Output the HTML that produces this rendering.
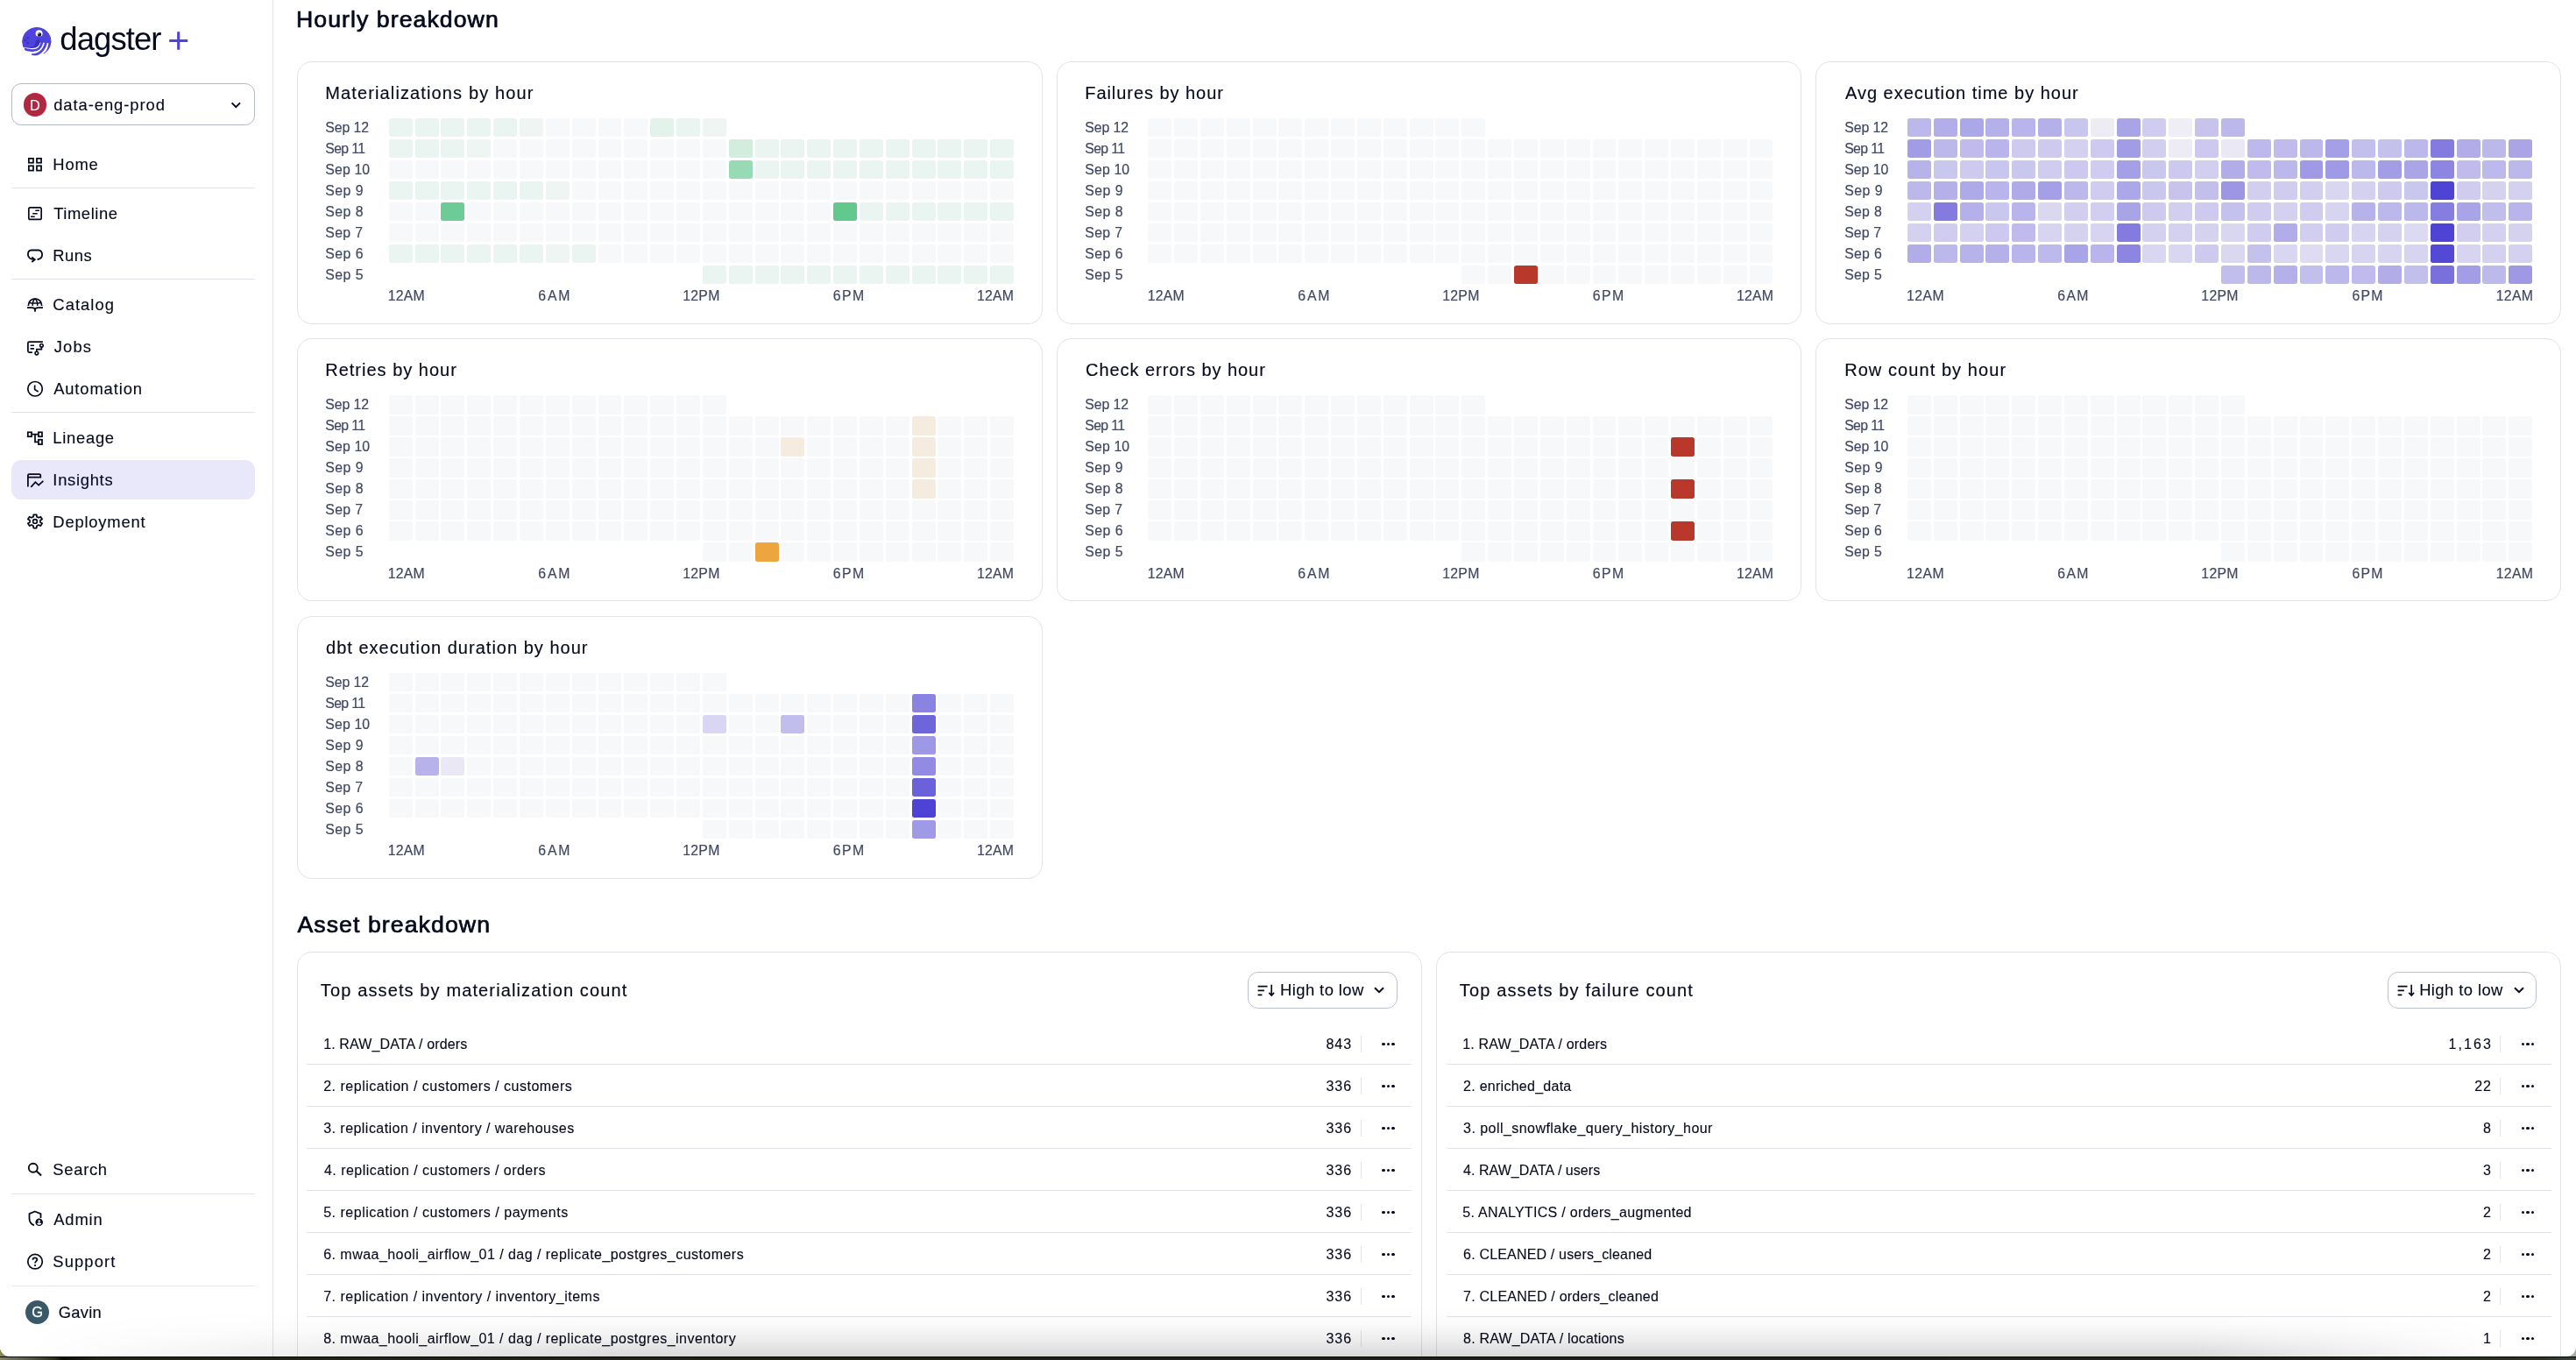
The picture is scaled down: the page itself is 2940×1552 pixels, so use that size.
<!DOCTYPE html>
<html><head><meta charset="utf-8"><title>Insights</title>
<style>
html,body{margin:0;padding:0;background:#fff;}
body{width:2940px;height:1552px;position:relative;overflow:hidden;font-family:"Liberation Sans", sans-serif;}
.t{position:absolute;white-space:pre;line-height:1;font-family:"Liberation Sans", sans-serif;}
.card{position:absolute;box-sizing:border-box;border:1.4px solid #e1e3e9;border-radius:17px;background:#fff;}
.hm i{position:absolute;display:block;width:26.942px;height:21px;border-radius:2.7px;}
.h22 i{height:22px;}
.btn{position:absolute;box-sizing:border-box;border:1.4px solid #bcc2d0;border-radius:12px;background:#fff;}
.sep{position:absolute;left:13px;width:278px;height:1px;background:#e1e3e9;}
</style></head><body>
<div style="position:absolute;left:0;top:1540px;width:2940px;height:12px;background:linear-gradient(to right,#8a8a52 0px,#6f735c 12px,#5d614a 30px,#2c3019 62px,#0a0b06 72px,#20251a 110px,#1b2018 1400px,#1d231b 2600px,#2c3328 2900px,#3a4136 2940px)"></div>
<div style="position:absolute;left:0;top:1547.6px;width:2940px;height:1.6px;background:#050505"></div>
<div style="position:absolute;left:2922px;top:1530px;width:18px;height:18px;background:#a9aba8"></div>
</body></html><div id="win" style="will-change:transform;position:absolute;left:0;top:0;width:2940px;height:1547.7px;background:#fff;overflow:hidden;border-bottom-left-radius:11px;border-bottom-right-radius:11px;">
<div style="position:absolute;left:311px;top:0;width:1.4px;height:1552px;background:#e1e3e9"></div>
<div class="sep" style="top:214px"></div>
<div class="sep" style="top:317.6px"></div>
<div class="sep" style="top:469.6px"></div>
<div class="sep" style="top:1361.8px"></div>
<div class="sep" style="top:1467px"></div>
<div style="position:absolute;left:13px;top:525.2px;width:278px;height:44.4px;border-radius:11px;background:#e9e8fa"></div>
<div style="position:absolute;box-sizing:border-box;left:13px;top:95px;width:278.3px;height:48px;border:1.5px solid #b3b9c9;border-radius:11px;background:#fff"></div>
<div style="position:absolute;left:26.7px;top:106.4px;width:26.4px;height:26.4px;border-radius:50%;background:#b0273f"></div>
<span class="t" style="left:34px;top:111.69px;font-size:16.2px;color:#fff;-webkit-text-stroke:0.2px #fff">D</span>
<svg style="position:absolute;left:261px;top:112px" width="16" height="16" viewBox="0 0 16 16" fill="none" stroke="#060a1c" stroke-width="2"><path d="M3.6 5.4L8.3 10.1L13 5.4"/></svg>
<div style="position:absolute;left:28.9px;top:1483.8px;width:27px;height:27px;border-radius:50%;background:#3a5966"></div>
<span class="t" style="left:36.3px;top:1489.33px;font-size:16.5px;color:#fff;-webkit-text-stroke:0.3px #fff">G</span>
<svg style="position:absolute;left:192px;top:35px" width="24" height="24" viewBox="0 0 24 24" fill="none" stroke="#4f43dd" stroke-width="3.1"><path d="M1.2 11.5H22.2M11.7 1.3V21.8"/></svg>
<svg style="position:absolute;left:24px;top:29px" width="36" height="36" viewBox="0 0 36 36">
<defs><clipPath id="oc"><circle cx="17.700" cy="17.800" r="16.800"/></clipPath></defs>
<g clip-path="url(#oc)">
<path fill="#4f43dd" d="M2.500 25.300A16.800 16.800 0 1 1 34.700 20.300L21.500 19.500C21 21.500 20 23.200 18.500 24.200C17.400 25 16.200 25.400 15.300 25.600C13.500 26 12 26 10.700 25.900C8 25.700 5.500 25.600 2.500 25.300Z"/>
<path fill="#3b31b4" d="M16.900 18.300C17.300 16.600 19.200 15.500 20.800 16.100C21.700 16.500 21.800 17.800 21.500 19.500C21 21.500 20 23.200 18.500 24.200C17.400 25 16.200 25.400 15.300 25.600C13.500 26 11.500 26.100 9.800 25.900C12.500 25.200 14.800 23.800 15.800 21.800C16.400 20.600 16.600 19.500 16.900 18.300Z"/>
<circle cx="20.600" cy="9.300" r="3.950" fill="#fff"/>
<circle cx="21" cy="10.500" r="2.150" fill="#0d0b26"/>
<circle cx="20.200" cy="9.700" r="0.600" fill="#fff"/>
<path fill="#4f43dd" d="M15.500 12.300L25.600 12.300L25.600 14.500L15.500 14.500Z"/>
<circle cx="7.700" cy="14.200" r="1.300" fill="#3b31b4"/><circle cx="5" cy="17.100" r="1.300" fill="#3b31b4"/><circle cx="7.700" cy="20" r="1.300" fill="#3b31b4"/>
<path fill="none" stroke="#4f43dd" stroke-width="2.700" stroke-linecap="round" d="M24.100 18.400C23.800 21 22.500 24.300 20.500 26.200C18 28.400 14.500 28.900 10.900 28.400C8.500 28.100 6.500 27.800 4.800 27.400"/>
<path fill="none" stroke="#4f43dd" stroke-width="2.800" stroke-linecap="round" d="M28.500 19.200C28.200 21.500 27.600 23 26.800 24.600C25.800 26.600 24.600 28.300 23 29.700C21.400 31.200 19.800 32.200 17.900 32.900C16.500 33.400 14.800 33.600 13.400 33.500"/>
<path fill="none" stroke="#4f43dd" stroke-width="3.300" stroke-linecap="round" d="M33.100 19.600C32.900 22 32.500 23.800 31.900 25.500C31.300 27.300 30.600 28.800 29.900 30.100C29.200 31.200 28.300 32 27.300 32.700"/>
</g>
</svg>
<svg style="position:absolute;left:28px;top:175.0px" width="24" height="24" viewBox="0 0 24 24" fill="none" stroke="#060a1c" stroke-width="1.75" stroke-linejoin="miter" ><rect x="4.850" y="5.850" width="5.150" height="4.850"/><rect x="14" y="5.850" width="5.050" height="4.850"/><rect x="4.850" y="14.300" width="5.150" height="5.300"/><rect x="14" y="14.300" width="5.050" height="5.300"/></svg>
<svg style="position:absolute;left:28px;top:230.9px" width="24" height="24" viewBox="0 0 24 24" fill="none" stroke="#060a1c" stroke-width="2.0" stroke-linejoin="miter" ><rect x="4.820" y="5.920" width="14.360" height="13.530" rx="1.700" stroke-width="1.700"/><path d="M12.300 9.200H16.950M9.200 12.700H14.700M7.050 16.200H11.700" stroke-width="1.600"/></svg>
<svg style="position:absolute;left:28px;top:278.7px" width="24" height="24" viewBox="0 0 24 24" fill="none" stroke="#060a1c" stroke-width="2.0" stroke-linejoin="miter" ><path d="M15.300 17C18.300 16.400 20.100 14.300 20.100 11.600C20.100 8.600 18.300 6.500 16.100 6.500H7.700C5.500 6.500 3.900 8.600 3.900 11.600C3.900 14.800 7 17.200 11 17.200" stroke-width="1.800" stroke-linecap="round"/><path d="M8.300 14.500L11.700 17.200L8.300 19.900" stroke-width="1.900" stroke-linecap="butt"/></svg>
<svg style="position:absolute;left:28px;top:335.5px" width="24" height="24" viewBox="0 0 24 24" fill="none" stroke="#060a1c" stroke-width="1.8" stroke-linejoin="miter" ><path d="M4.300 12.900A7.700 8.100 0 0 1 19.700 12.900" stroke-width="1.700"/><path d="M5 9.500Q12 10.700 19 9.500" stroke-width="1.500"/><path d="M11.400 5C9.800 7 9.100 10 9.100 12.900M12.600 5C14.200 7 14.900 10 14.900 12.900" stroke-width="1.500"/><path d="M3 15.200H8.300C10.300 15.200 12 16.200 12 18V19.800M21 15.200H15.700C13.700 15.200 12 16.200 12 18" stroke-width="1.800"/></svg>
<svg style="position:absolute;left:28px;top:383.5px" width="24" height="24" viewBox="0 0 24 24" fill="none" stroke="#060a1c" stroke-width="2.0" stroke-linejoin="miter" ><path d="M20.850 6H5.400Q3.900 6 3.900 7.500V16.600Q3.900 18.100 5.400 18.100H8.900" stroke-width="1.750"/><path d="M6.650 10.250H10.950M6.650 13.850H10.950" stroke-width="1.650"/><circle cx="19.400" cy="10.250" r="1.800" stroke-width="1.600"/><circle cx="13.850" cy="19.100" r="1.800" stroke-width="1.600"/><path d="M19.400 12.100V14.600H13.850V17.300" stroke-width="1.650"/></svg>
<svg style="position:absolute;left:28px;top:431.5px" width="24" height="24" viewBox="0 0 24 24" fill="none" stroke="#060a1c" stroke-width="2.0" stroke-linejoin="miter" ><circle cx="12.050" cy="11.750" r="8.250" stroke-width="1.700"/><path d="M11.650 7.600V12.600L15.700 14.900" stroke-width="1.700" stroke-linejoin="round"/></svg>
<svg style="position:absolute;left:28px;top:487.5px" width="24" height="24" viewBox="0 0 24 24" fill="none" stroke="#060a1c" stroke-width="1.75" stroke-linejoin="miter" ><rect x="3.800" y="5.300" width="4.250" height="4.900"/><rect x="15.950" y="5.300" width="4.050" height="4.900"/><rect x="15.950" y="13.750" width="4.050" height="5.300"/><path d="M8.900 7.600H15.100M12 7.600V16.400H15.100"/></svg>
<svg style="position:absolute;left:28px;top:535.5px" width="24" height="24" viewBox="0 0 24 24" fill="none" stroke="#060a1c" stroke-width="1.75" stroke-linejoin="miter" ><path d="M3.900 19.500V6.600Q3.900 5.100 5.400 5.100H16.800Q18.300 5.100 18.300 6.600V8.600H3.900"/><path d="M7.300 19.900L12.400 14.200L16.100 17.650L21.400 12.800"/></svg>
<svg style="position:absolute;left:28px;top:583.1px" width="24" height="24" viewBox="0 0 24 24" fill="none" stroke="#060a1c" stroke-width="2.0" stroke-linejoin="miter" ><path d="M10.30 6.67L10.40 4.37L13.60 4.37L13.70 6.67L15.68 7.81L17.72 6.75L19.32 9.52L17.38 10.76L17.38 13.04L19.32 14.28L17.72 17.05L15.68 15.99L13.70 17.13L13.60 19.43L10.40 19.43L10.30 17.13L8.32 15.99L6.28 17.05L4.68 14.28L6.62 13.04L6.62 10.76L4.68 9.52L6.28 6.75L8.32 7.81Z" transform="translate(12 11.9) scale(1.110 1.010) translate(-12 -11.9)" vector-effect="non-scaling-stroke" stroke-linejoin="round" stroke-width="1.750"/><circle cx="12" cy="11.900" r="2.350" stroke-width="1.650"/></svg>
<svg style="position:absolute;left:28px;top:1322.5px" width="24" height="24" viewBox="0 0 24 24" fill="none" stroke="#060a1c" stroke-width="2.0" stroke-linejoin="miter" ><circle cx="9.800" cy="9.750" r="5" stroke-width="1.850"/><path d="M13.500 13.300L19.100 18.600" stroke-width="2"/></svg>
<svg style="position:absolute;left:28px;top:1379.0px" width="24" height="24" viewBox="0 0 24 24" fill="none" stroke="#060a1c" stroke-width="2.0" stroke-linejoin="miter" ><path d="M18.500 11V6.100L11.800 3.500L5.500 6.100V11.600C5.500 15 7.600 18 10.900 19.400" stroke-width="1.8" stroke-linejoin="round"/><circle cx="16.700" cy="15.800" r="4.300" fill="#060a1c" stroke="none"/><circle cx="16.700" cy="14.500" r="1.300" fill="#fff" stroke="none"/><path d="M14.200 17.700C14.700 16.600 15.600 16.200 16.700 16.200C17.800 16.200 18.700 16.600 19.200 17.700C18.500 18.400 17.700 18.800 16.700 18.800C15.700 18.800 14.900 18.400 14.200 17.700Z" fill="#fff" stroke="none"/></svg>
<svg style="position:absolute;left:28px;top:1427.5px" width="24" height="24" viewBox="0 0 24 24" fill="none" stroke="#060a1c" stroke-width="2.0" stroke-linejoin="miter" ><circle cx="12.050" cy="11.700" r="8.250" stroke-width="1.700"/><path d="M9.500 9.700C9.500 8.300 10.500 7.400 11.900 7.400C13.300 7.400 14.300 8.300 14.300 9.500C14.300 11.300 12 11.500 12 13.500" stroke-width="1.800"/><circle cx="12" cy="16.100" r="1.100" fill="#060a1c" stroke="none"/></svg>
<div class="card" style="left:339px;top:70px;width:851px;height:300px"></div><div class="hm"><i style="left:443.80px;top:135.20px;background:#eaf4f0"></i><i style="left:473.64px;top:135.20px;background:#eaf4f0"></i><i style="left:503.48px;top:135.20px;background:#eaf4f0"></i><i style="left:533.33px;top:135.20px;background:#eaf4f0"></i><i style="left:563.17px;top:135.20px;background:#eaf4f0"></i><i style="left:593.01px;top:135.20px;background:#eff5f3"></i><i style="left:622.85px;top:135.20px;background:#f7f8fa"></i><i style="left:652.69px;top:135.20px;background:#f7f8fa"></i><i style="left:682.53px;top:135.20px;background:#f7f8fa"></i><i style="left:712.38px;top:135.20px;background:#f7f8fa"></i><i style="left:742.22px;top:135.20px;background:#e3f2ea"></i><i style="left:772.06px;top:135.20px;background:#eaf4f0"></i><i style="left:801.90px;top:135.20px;background:#eff5f3"></i><i style="left:443.80px;top:159.20px;background:#eaf4f0"></i><i style="left:473.64px;top:159.20px;background:#eaf4f0"></i><i style="left:503.48px;top:159.20px;background:#eaf4f0"></i><i style="left:533.33px;top:159.20px;background:#eff5f3"></i><i style="left:563.17px;top:159.20px;background:#f7f8fa"></i><i style="left:593.01px;top:159.20px;background:#f7f8fa"></i><i style="left:622.85px;top:159.20px;background:#f7f8fa"></i><i style="left:652.69px;top:159.20px;background:#f7f8fa"></i><i style="left:682.53px;top:159.20px;background:#f7f8fa"></i><i style="left:712.38px;top:159.20px;background:#f7f8fa"></i><i style="left:742.22px;top:159.20px;background:#f7f8fa"></i><i style="left:772.06px;top:159.20px;background:#f7f8fa"></i><i style="left:801.90px;top:159.20px;background:#f7f8fa"></i><i style="left:831.74px;top:159.20px;background:#d2ecde"></i><i style="left:861.58px;top:159.20px;background:#eaf4f0"></i><i style="left:891.42px;top:159.20px;background:#eaf4f0"></i><i style="left:921.27px;top:159.20px;background:#eaf4f0"></i><i style="left:951.11px;top:159.20px;background:#eaf4f0"></i><i style="left:980.95px;top:159.20px;background:#eaf4f0"></i><i style="left:1010.79px;top:159.20px;background:#eaf4f0"></i><i style="left:1040.63px;top:159.20px;background:#eaf4f0"></i><i style="left:1070.47px;top:159.20px;background:#eaf4f0"></i><i style="left:1100.32px;top:159.20px;background:#eaf4f0"></i><i style="left:1130.16px;top:159.20px;background:#eaf4f0"></i><i style="left:443.80px;top:183.20px;background:#f7f8fa"></i><i style="left:473.64px;top:183.20px;background:#f7f8fa"></i><i style="left:503.48px;top:183.20px;background:#f7f8fa"></i><i style="left:533.33px;top:183.20px;background:#f7f8fa"></i><i style="left:563.17px;top:183.20px;background:#f7f8fa"></i><i style="left:593.01px;top:183.20px;background:#f7f8fa"></i><i style="left:622.85px;top:183.20px;background:#f7f8fa"></i><i style="left:652.69px;top:183.20px;background:#f7f8fa"></i><i style="left:682.53px;top:183.20px;background:#f7f8fa"></i><i style="left:712.38px;top:183.20px;background:#f7f8fa"></i><i style="left:742.22px;top:183.20px;background:#f7f8fa"></i><i style="left:772.06px;top:183.20px;background:#f7f8fa"></i><i style="left:801.90px;top:183.20px;background:#f7f8fa"></i><i style="left:831.74px;top:183.20px;background:#97dab4"></i><i style="left:861.58px;top:183.20px;background:#eaf4f0"></i><i style="left:891.42px;top:183.20px;background:#eaf4f0"></i><i style="left:921.27px;top:183.20px;background:#eaf4f0"></i><i style="left:951.11px;top:183.20px;background:#eaf4f0"></i><i style="left:980.95px;top:183.20px;background:#eaf4f0"></i><i style="left:1010.79px;top:183.20px;background:#eaf4f0"></i><i style="left:1040.63px;top:183.20px;background:#eaf4f0"></i><i style="left:1070.47px;top:183.20px;background:#eaf4f0"></i><i style="left:1100.32px;top:183.20px;background:#eaf4f0"></i><i style="left:1130.16px;top:183.20px;background:#eaf4f0"></i><i style="left:443.80px;top:207.20px;background:#eaf4f0"></i><i style="left:473.64px;top:207.20px;background:#eaf4f0"></i><i style="left:503.48px;top:207.20px;background:#eaf4f0"></i><i style="left:533.33px;top:207.20px;background:#eaf4f0"></i><i style="left:563.17px;top:207.20px;background:#eaf4f0"></i><i style="left:593.01px;top:207.20px;background:#eaf4f0"></i><i style="left:622.85px;top:207.20px;background:#eff5f3"></i><i style="left:652.69px;top:207.20px;background:#f7f8fa"></i><i style="left:682.53px;top:207.20px;background:#f7f8fa"></i><i style="left:712.38px;top:207.20px;background:#f7f8fa"></i><i style="left:742.22px;top:207.20px;background:#f7f8fa"></i><i style="left:772.06px;top:207.20px;background:#f7f8fa"></i><i style="left:801.90px;top:207.20px;background:#f7f8fa"></i><i style="left:831.74px;top:207.20px;background:#f7f8fa"></i><i style="left:861.58px;top:207.20px;background:#f7f8fa"></i><i style="left:891.42px;top:207.20px;background:#f7f8fa"></i><i style="left:921.27px;top:207.20px;background:#f7f8fa"></i><i style="left:951.11px;top:207.20px;background:#f7f8fa"></i><i style="left:980.95px;top:207.20px;background:#f7f8fa"></i><i style="left:1010.79px;top:207.20px;background:#f7f8fa"></i><i style="left:1040.63px;top:207.20px;background:#f7f8fa"></i><i style="left:1070.47px;top:207.20px;background:#f7f8fa"></i><i style="left:1100.32px;top:207.20px;background:#f7f8fa"></i><i style="left:1130.16px;top:207.20px;background:#f7f8fa"></i><i style="left:443.80px;top:231.20px;background:#f7f8fa"></i><i style="left:473.64px;top:231.20px;background:#f7f8fa"></i><i style="left:503.48px;top:231.20px;background:#6dcc96"></i><i style="left:533.33px;top:231.20px;background:#f7f8fa"></i><i style="left:563.17px;top:231.20px;background:#f7f8fa"></i><i style="left:593.01px;top:231.20px;background:#f7f8fa"></i><i style="left:622.85px;top:231.20px;background:#f7f8fa"></i><i style="left:652.69px;top:231.20px;background:#f7f8fa"></i><i style="left:682.53px;top:231.20px;background:#f7f8fa"></i><i style="left:712.38px;top:231.20px;background:#f7f8fa"></i><i style="left:742.22px;top:231.20px;background:#f7f8fa"></i><i style="left:772.06px;top:231.20px;background:#f7f8fa"></i><i style="left:801.90px;top:231.20px;background:#f7f8fa"></i><i style="left:831.74px;top:231.20px;background:#f7f8fa"></i><i style="left:861.58px;top:231.20px;background:#f7f8fa"></i><i style="left:891.42px;top:231.20px;background:#f7f8fa"></i><i style="left:921.27px;top:231.20px;background:#f7f8fa"></i><i style="left:951.11px;top:231.20px;background:#63c88b"></i><i style="left:980.95px;top:231.20px;background:#eaf4f0"></i><i style="left:1010.79px;top:231.20px;background:#eaf4f0"></i><i style="left:1040.63px;top:231.20px;background:#eaf4f0"></i><i style="left:1070.47px;top:231.20px;background:#eaf4f0"></i><i style="left:1100.32px;top:231.20px;background:#eaf4f0"></i><i style="left:1130.16px;top:231.20px;background:#eaf4f0"></i><i style="left:443.80px;top:255.20px;background:#f7f8fa"></i><i style="left:473.64px;top:255.20px;background:#f7f8fa"></i><i style="left:503.48px;top:255.20px;background:#f7f8fa"></i><i style="left:533.33px;top:255.20px;background:#f7f8fa"></i><i style="left:563.17px;top:255.20px;background:#f7f8fa"></i><i style="left:593.01px;top:255.20px;background:#f7f8fa"></i><i style="left:622.85px;top:255.20px;background:#f7f8fa"></i><i style="left:652.69px;top:255.20px;background:#f7f8fa"></i><i style="left:682.53px;top:255.20px;background:#f7f8fa"></i><i style="left:712.38px;top:255.20px;background:#f7f8fa"></i><i style="left:742.22px;top:255.20px;background:#f7f8fa"></i><i style="left:772.06px;top:255.20px;background:#f7f8fa"></i><i style="left:801.90px;top:255.20px;background:#f7f8fa"></i><i style="left:831.74px;top:255.20px;background:#f7f8fa"></i><i style="left:861.58px;top:255.20px;background:#f7f8fa"></i><i style="left:891.42px;top:255.20px;background:#f7f8fa"></i><i style="left:921.27px;top:255.20px;background:#f7f8fa"></i><i style="left:951.11px;top:255.20px;background:#f7f8fa"></i><i style="left:980.95px;top:255.20px;background:#f7f8fa"></i><i style="left:1010.79px;top:255.20px;background:#f7f8fa"></i><i style="left:1040.63px;top:255.20px;background:#f7f8fa"></i><i style="left:1070.47px;top:255.20px;background:#f7f8fa"></i><i style="left:1100.32px;top:255.20px;background:#f7f8fa"></i><i style="left:1130.16px;top:255.20px;background:#f7f8fa"></i><i style="left:443.80px;top:279.20px;background:#eaf4f0"></i><i style="left:473.64px;top:279.20px;background:#eaf4f0"></i><i style="left:503.48px;top:279.20px;background:#eaf4f0"></i><i style="left:533.33px;top:279.20px;background:#eaf4f0"></i><i style="left:563.17px;top:279.20px;background:#eaf4f0"></i><i style="left:593.01px;top:279.20px;background:#eaf4f0"></i><i style="left:622.85px;top:279.20px;background:#eff5f3"></i><i style="left:652.69px;top:279.20px;background:#eaf4f0"></i><i style="left:682.53px;top:279.20px;background:#f7f8fa"></i><i style="left:712.38px;top:279.20px;background:#f7f8fa"></i><i style="left:742.22px;top:279.20px;background:#f7f8fa"></i><i style="left:772.06px;top:279.20px;background:#f7f8fa"></i><i style="left:801.90px;top:279.20px;background:#f7f8fa"></i><i style="left:831.74px;top:279.20px;background:#f7f8fa"></i><i style="left:861.58px;top:279.20px;background:#f7f8fa"></i><i style="left:891.42px;top:279.20px;background:#f7f8fa"></i><i style="left:921.27px;top:279.20px;background:#f7f8fa"></i><i style="left:951.11px;top:279.20px;background:#f7f8fa"></i><i style="left:980.95px;top:279.20px;background:#f7f8fa"></i><i style="left:1010.79px;top:279.20px;background:#f7f8fa"></i><i style="left:1040.63px;top:279.20px;background:#f7f8fa"></i><i style="left:1070.47px;top:279.20px;background:#f7f8fa"></i><i style="left:1100.32px;top:279.20px;background:#f7f8fa"></i><i style="left:1130.16px;top:279.20px;background:#f7f8fa"></i><i style="left:801.90px;top:303.20px;background:#eaf4f0"></i><i style="left:831.74px;top:303.20px;background:#eaf4f0"></i><i style="left:861.58px;top:303.20px;background:#eaf4f0"></i><i style="left:891.42px;top:303.20px;background:#eaf4f0"></i><i style="left:921.27px;top:303.20px;background:#eaf4f0"></i><i style="left:951.11px;top:303.20px;background:#eaf4f0"></i><i style="left:980.95px;top:303.20px;background:#eaf4f0"></i><i style="left:1010.79px;top:303.20px;background:#eaf4f0"></i><i style="left:1040.63px;top:303.20px;background:#eaf4f0"></i><i style="left:1070.47px;top:303.20px;background:#eaf4f0"></i><i style="left:1100.32px;top:303.20px;background:#eaf4f0"></i><i style="left:1130.16px;top:303.20px;background:#eaf4f0"></i></div><div class="card" style="left:1206px;top:70px;width:850px;height:300px"></div><div class="hm"><i style="left:1310.20px;top:135.20px;background:#f7f8fa"></i><i style="left:1340.04px;top:135.20px;background:#f7f8fa"></i><i style="left:1369.88px;top:135.20px;background:#f7f8fa"></i><i style="left:1399.72px;top:135.20px;background:#f7f8fa"></i><i style="left:1429.57px;top:135.20px;background:#f7f8fa"></i><i style="left:1459.41px;top:135.20px;background:#f7f8fa"></i><i style="left:1489.25px;top:135.20px;background:#f7f8fa"></i><i style="left:1519.09px;top:135.20px;background:#f7f8fa"></i><i style="left:1548.93px;top:135.20px;background:#f7f8fa"></i><i style="left:1578.78px;top:135.20px;background:#f7f8fa"></i><i style="left:1608.62px;top:135.20px;background:#f7f8fa"></i><i style="left:1638.46px;top:135.20px;background:#f7f8fa"></i><i style="left:1668.30px;top:135.20px;background:#f7f8fa"></i><i style="left:1310.20px;top:159.20px;background:#f7f8fa"></i><i style="left:1340.04px;top:159.20px;background:#f7f8fa"></i><i style="left:1369.88px;top:159.20px;background:#f7f8fa"></i><i style="left:1399.72px;top:159.20px;background:#f7f8fa"></i><i style="left:1429.57px;top:159.20px;background:#f7f8fa"></i><i style="left:1459.41px;top:159.20px;background:#f7f8fa"></i><i style="left:1489.25px;top:159.20px;background:#f7f8fa"></i><i style="left:1519.09px;top:159.20px;background:#f7f8fa"></i><i style="left:1548.93px;top:159.20px;background:#f7f8fa"></i><i style="left:1578.78px;top:159.20px;background:#f7f8fa"></i><i style="left:1608.62px;top:159.20px;background:#f7f8fa"></i><i style="left:1638.46px;top:159.20px;background:#f7f8fa"></i><i style="left:1668.30px;top:159.20px;background:#f7f8fa"></i><i style="left:1698.14px;top:159.20px;background:#f7f8fa"></i><i style="left:1727.98px;top:159.20px;background:#f7f8fa"></i><i style="left:1757.83px;top:159.20px;background:#f7f8fa"></i><i style="left:1787.67px;top:159.20px;background:#f7f8fa"></i><i style="left:1817.51px;top:159.20px;background:#f7f8fa"></i><i style="left:1847.35px;top:159.20px;background:#f7f8fa"></i><i style="left:1877.19px;top:159.20px;background:#f7f8fa"></i><i style="left:1907.03px;top:159.20px;background:#f7f8fa"></i><i style="left:1936.88px;top:159.20px;background:#f7f8fa"></i><i style="left:1966.72px;top:159.20px;background:#f7f8fa"></i><i style="left:1996.56px;top:159.20px;background:#f7f8fa"></i><i style="left:1310.20px;top:183.20px;background:#f7f8fa"></i><i style="left:1340.04px;top:183.20px;background:#f7f8fa"></i><i style="left:1369.88px;top:183.20px;background:#f7f8fa"></i><i style="left:1399.72px;top:183.20px;background:#f7f8fa"></i><i style="left:1429.57px;top:183.20px;background:#f7f8fa"></i><i style="left:1459.41px;top:183.20px;background:#f7f8fa"></i><i style="left:1489.25px;top:183.20px;background:#f7f8fa"></i><i style="left:1519.09px;top:183.20px;background:#f7f8fa"></i><i style="left:1548.93px;top:183.20px;background:#f7f8fa"></i><i style="left:1578.78px;top:183.20px;background:#f7f8fa"></i><i style="left:1608.62px;top:183.20px;background:#f7f8fa"></i><i style="left:1638.46px;top:183.20px;background:#f7f8fa"></i><i style="left:1668.30px;top:183.20px;background:#f7f8fa"></i><i style="left:1698.14px;top:183.20px;background:#f7f8fa"></i><i style="left:1727.98px;top:183.20px;background:#f7f8fa"></i><i style="left:1757.83px;top:183.20px;background:#f7f8fa"></i><i style="left:1787.67px;top:183.20px;background:#f7f8fa"></i><i style="left:1817.51px;top:183.20px;background:#f7f8fa"></i><i style="left:1847.35px;top:183.20px;background:#f7f8fa"></i><i style="left:1877.19px;top:183.20px;background:#f7f8fa"></i><i style="left:1907.03px;top:183.20px;background:#f7f8fa"></i><i style="left:1936.88px;top:183.20px;background:#f7f8fa"></i><i style="left:1966.72px;top:183.20px;background:#f7f8fa"></i><i style="left:1996.56px;top:183.20px;background:#f7f8fa"></i><i style="left:1310.20px;top:207.20px;background:#f7f8fa"></i><i style="left:1340.04px;top:207.20px;background:#f7f8fa"></i><i style="left:1369.88px;top:207.20px;background:#f7f8fa"></i><i style="left:1399.72px;top:207.20px;background:#f7f8fa"></i><i style="left:1429.57px;top:207.20px;background:#f7f8fa"></i><i style="left:1459.41px;top:207.20px;background:#f7f8fa"></i><i style="left:1489.25px;top:207.20px;background:#f7f8fa"></i><i style="left:1519.09px;top:207.20px;background:#f7f8fa"></i><i style="left:1548.93px;top:207.20px;background:#f7f8fa"></i><i style="left:1578.78px;top:207.20px;background:#f7f8fa"></i><i style="left:1608.62px;top:207.20px;background:#f7f8fa"></i><i style="left:1638.46px;top:207.20px;background:#f7f8fa"></i><i style="left:1668.30px;top:207.20px;background:#f7f8fa"></i><i style="left:1698.14px;top:207.20px;background:#f7f8fa"></i><i style="left:1727.98px;top:207.20px;background:#f7f8fa"></i><i style="left:1757.83px;top:207.20px;background:#f7f8fa"></i><i style="left:1787.67px;top:207.20px;background:#f7f8fa"></i><i style="left:1817.51px;top:207.20px;background:#f7f8fa"></i><i style="left:1847.35px;top:207.20px;background:#f7f8fa"></i><i style="left:1877.19px;top:207.20px;background:#f7f8fa"></i><i style="left:1907.03px;top:207.20px;background:#f7f8fa"></i><i style="left:1936.88px;top:207.20px;background:#f7f8fa"></i><i style="left:1966.72px;top:207.20px;background:#f7f8fa"></i><i style="left:1996.56px;top:207.20px;background:#f7f8fa"></i><i style="left:1310.20px;top:231.20px;background:#f7f8fa"></i><i style="left:1340.04px;top:231.20px;background:#f7f8fa"></i><i style="left:1369.88px;top:231.20px;background:#f7f8fa"></i><i style="left:1399.72px;top:231.20px;background:#f7f8fa"></i><i style="left:1429.57px;top:231.20px;background:#f7f8fa"></i><i style="left:1459.41px;top:231.20px;background:#f7f8fa"></i><i style="left:1489.25px;top:231.20px;background:#f7f8fa"></i><i style="left:1519.09px;top:231.20px;background:#f7f8fa"></i><i style="left:1548.93px;top:231.20px;background:#f7f8fa"></i><i style="left:1578.78px;top:231.20px;background:#f7f8fa"></i><i style="left:1608.62px;top:231.20px;background:#f7f8fa"></i><i style="left:1638.46px;top:231.20px;background:#f7f8fa"></i><i style="left:1668.30px;top:231.20px;background:#f7f8fa"></i><i style="left:1698.14px;top:231.20px;background:#f7f8fa"></i><i style="left:1727.98px;top:231.20px;background:#f7f8fa"></i><i style="left:1757.83px;top:231.20px;background:#f7f8fa"></i><i style="left:1787.67px;top:231.20px;background:#f7f8fa"></i><i style="left:1817.51px;top:231.20px;background:#f7f8fa"></i><i style="left:1847.35px;top:231.20px;background:#f7f8fa"></i><i style="left:1877.19px;top:231.20px;background:#f7f8fa"></i><i style="left:1907.03px;top:231.20px;background:#f7f8fa"></i><i style="left:1936.88px;top:231.20px;background:#f7f8fa"></i><i style="left:1966.72px;top:231.20px;background:#f7f8fa"></i><i style="left:1996.56px;top:231.20px;background:#f7f8fa"></i><i style="left:1310.20px;top:255.20px;background:#f7f8fa"></i><i style="left:1340.04px;top:255.20px;background:#f7f8fa"></i><i style="left:1369.88px;top:255.20px;background:#f7f8fa"></i><i style="left:1399.72px;top:255.20px;background:#f7f8fa"></i><i style="left:1429.57px;top:255.20px;background:#f7f8fa"></i><i style="left:1459.41px;top:255.20px;background:#f7f8fa"></i><i style="left:1489.25px;top:255.20px;background:#f7f8fa"></i><i style="left:1519.09px;top:255.20px;background:#f7f8fa"></i><i style="left:1548.93px;top:255.20px;background:#f7f8fa"></i><i style="left:1578.78px;top:255.20px;background:#f7f8fa"></i><i style="left:1608.62px;top:255.20px;background:#f7f8fa"></i><i style="left:1638.46px;top:255.20px;background:#f7f8fa"></i><i style="left:1668.30px;top:255.20px;background:#f7f8fa"></i><i style="left:1698.14px;top:255.20px;background:#f7f8fa"></i><i style="left:1727.98px;top:255.20px;background:#f7f8fa"></i><i style="left:1757.83px;top:255.20px;background:#f7f8fa"></i><i style="left:1787.67px;top:255.20px;background:#f7f8fa"></i><i style="left:1817.51px;top:255.20px;background:#f7f8fa"></i><i style="left:1847.35px;top:255.20px;background:#f7f8fa"></i><i style="left:1877.19px;top:255.20px;background:#f7f8fa"></i><i style="left:1907.03px;top:255.20px;background:#f7f8fa"></i><i style="left:1936.88px;top:255.20px;background:#f7f8fa"></i><i style="left:1966.72px;top:255.20px;background:#f7f8fa"></i><i style="left:1996.56px;top:255.20px;background:#f7f8fa"></i><i style="left:1310.20px;top:279.20px;background:#f7f8fa"></i><i style="left:1340.04px;top:279.20px;background:#f7f8fa"></i><i style="left:1369.88px;top:279.20px;background:#f7f8fa"></i><i style="left:1399.72px;top:279.20px;background:#f7f8fa"></i><i style="left:1429.57px;top:279.20px;background:#f7f8fa"></i><i style="left:1459.41px;top:279.20px;background:#f7f8fa"></i><i style="left:1489.25px;top:279.20px;background:#f7f8fa"></i><i style="left:1519.09px;top:279.20px;background:#f7f8fa"></i><i style="left:1548.93px;top:279.20px;background:#f7f8fa"></i><i style="left:1578.78px;top:279.20px;background:#f7f8fa"></i><i style="left:1608.62px;top:279.20px;background:#f7f8fa"></i><i style="left:1638.46px;top:279.20px;background:#f7f8fa"></i><i style="left:1668.30px;top:279.20px;background:#f7f8fa"></i><i style="left:1698.14px;top:279.20px;background:#f7f8fa"></i><i style="left:1727.98px;top:279.20px;background:#f7f8fa"></i><i style="left:1757.83px;top:279.20px;background:#f7f8fa"></i><i style="left:1787.67px;top:279.20px;background:#f7f8fa"></i><i style="left:1817.51px;top:279.20px;background:#f7f8fa"></i><i style="left:1847.35px;top:279.20px;background:#f7f8fa"></i><i style="left:1877.19px;top:279.20px;background:#f7f8fa"></i><i style="left:1907.03px;top:279.20px;background:#f7f8fa"></i><i style="left:1936.88px;top:279.20px;background:#f7f8fa"></i><i style="left:1966.72px;top:279.20px;background:#f7f8fa"></i><i style="left:1996.56px;top:279.20px;background:#f7f8fa"></i><i style="left:1668.30px;top:303.20px;background:#f7f8fa"></i><i style="left:1698.14px;top:303.20px;background:#f7f8fa"></i><i style="left:1727.98px;top:303.20px;background:#b8392b"></i><i style="left:1757.83px;top:303.20px;background:#f7f8fa"></i><i style="left:1787.67px;top:303.20px;background:#f7f8fa"></i><i style="left:1817.51px;top:303.20px;background:#f7f8fa"></i><i style="left:1847.35px;top:303.20px;background:#f7f8fa"></i><i style="left:1877.19px;top:303.20px;background:#f7f8fa"></i><i style="left:1907.03px;top:303.20px;background:#f7f8fa"></i><i style="left:1936.88px;top:303.20px;background:#f7f8fa"></i><i style="left:1966.72px;top:303.20px;background:#f7f8fa"></i><i style="left:1996.56px;top:303.20px;background:#f7f8fa"></i></div><div class="card" style="left:2072px;top:70px;width:851px;height:300px"></div><div class="hm"><i style="left:2176.90px;top:135.20px;background:#bcb8eb"></i><i style="left:2206.74px;top:135.20px;background:#b3aeea"></i><i style="left:2236.58px;top:135.20px;background:#aca7e8"></i><i style="left:2266.43px;top:135.20px;background:#b5b0ea"></i><i style="left:2296.27px;top:135.20px;background:#b9b4eb"></i><i style="left:2326.11px;top:135.20px;background:#b5b0ea"></i><i style="left:2355.95px;top:135.20px;background:#c8c5ee"></i><i style="left:2385.79px;top:135.20px;background:#edecf5"></i><i style="left:2415.63px;top:135.20px;background:#a9a3e7"></i><i style="left:2445.47px;top:135.20px;background:#cfccef"></i><i style="left:2475.32px;top:135.20px;background:#efeef6"></i><i style="left:2505.16px;top:135.20px;background:#c7c3ed"></i><i style="left:2535.00px;top:135.20px;background:#bcb8eb"></i><i style="left:2176.90px;top:159.20px;background:#a29be6"></i><i style="left:2206.74px;top:159.20px;background:#bcb8eb"></i><i style="left:2236.58px;top:159.20px;background:#c0bbec"></i><i style="left:2266.43px;top:159.20px;background:#b9b4eb"></i><i style="left:2296.27px;top:159.20px;background:#cecaef"></i><i style="left:2326.11px;top:159.20px;background:#cecaef"></i><i style="left:2355.95px;top:159.20px;background:#d3d0f0"></i><i style="left:2385.79px;top:159.20px;background:#cecaef"></i><i style="left:2415.63px;top:159.20px;background:#a29be6"></i><i style="left:2445.47px;top:159.20px;background:#d1cef0"></i><i style="left:2475.32px;top:159.20px;background:#edecf5"></i><i style="left:2505.16px;top:159.20px;background:#ccc8ef"></i><i style="left:2535.00px;top:159.20px;background:#eae8f5"></i><i style="left:2564.84px;top:159.20px;background:#beb9ec"></i><i style="left:2594.68px;top:159.20px;background:#c0bbec"></i><i style="left:2624.53px;top:159.20px;background:#bcb8eb"></i><i style="left:2654.37px;top:159.20px;background:#a59fe7"></i><i style="left:2684.21px;top:159.20px;background:#c3bfed"></i><i style="left:2714.05px;top:159.20px;background:#c5c1ed"></i><i style="left:2743.89px;top:159.20px;background:#bcb8eb"></i><i style="left:2773.73px;top:159.20px;background:#847be0"></i><i style="left:2803.57px;top:159.20px;background:#b2ace9"></i><i style="left:2833.42px;top:159.20px;background:#bcb8eb"></i><i style="left:2863.26px;top:159.20px;background:#aba5e8"></i><i style="left:2176.90px;top:183.20px;background:#b7b2ea"></i><i style="left:2206.74px;top:183.20px;background:#cac7ee"></i><i style="left:2236.58px;top:183.20px;background:#cecaef"></i><i style="left:2266.43px;top:183.20px;background:#c8c5ee"></i><i style="left:2296.27px;top:183.20px;background:#cac7ee"></i><i style="left:2326.11px;top:183.20px;background:#cfccef"></i><i style="left:2355.95px;top:183.20px;background:#ccc8ef"></i><i style="left:2385.79px;top:183.20px;background:#cfccef"></i><i style="left:2415.63px;top:183.20px;background:#a59fe7"></i><i style="left:2445.47px;top:183.20px;background:#cac7ee"></i><i style="left:2475.32px;top:183.20px;background:#ccc8ef"></i><i style="left:2505.16px;top:183.20px;background:#d1cef0"></i><i style="left:2535.00px;top:183.20px;background:#b2ace9"></i><i style="left:2564.84px;top:183.20px;background:#c0bbec"></i><i style="left:2594.68px;top:183.20px;background:#bcb8eb"></i><i style="left:2624.53px;top:183.20px;background:#a099e6"></i><i style="left:2654.37px;top:183.20px;background:#a099e6"></i><i style="left:2684.21px;top:183.20px;background:#bcb8eb"></i><i style="left:2714.05px;top:183.20px;background:#a39de6"></i><i style="left:2743.89px;top:183.20px;background:#aba5e8"></i><i style="left:2773.73px;top:183.20px;background:#8d85e2"></i><i style="left:2803.57px;top:183.20px;background:#c0bbec"></i><i style="left:2833.42px;top:183.20px;background:#beb9ec"></i><i style="left:2863.26px;top:183.20px;background:#bcb8eb"></i><i style="left:2176.90px;top:207.20px;background:#bcb8eb"></i><i style="left:2206.74px;top:207.20px;background:#b5b0ea"></i><i style="left:2236.58px;top:207.20px;background:#aea9e8"></i><i style="left:2266.43px;top:207.20px;background:#b9b4eb"></i><i style="left:2296.27px;top:207.20px;background:#b0aae9"></i><i style="left:2326.11px;top:207.20px;background:#a59fe7"></i><i style="left:2355.95px;top:207.20px;background:#bcb8eb"></i><i style="left:2385.79px;top:207.20px;background:#cfccef"></i><i style="left:2415.63px;top:207.20px;background:#aca7e8"></i><i style="left:2445.47px;top:207.20px;background:#cac7ee"></i><i style="left:2475.32px;top:207.20px;background:#c7c3ed"></i><i style="left:2505.16px;top:207.20px;background:#c3bfed"></i><i style="left:2535.00px;top:207.20px;background:#9c96e5"></i><i style="left:2564.84px;top:207.20px;background:#d1cef0"></i><i style="left:2594.68px;top:207.20px;background:#cfccef"></i><i style="left:2624.53px;top:207.20px;background:#d1cef0"></i><i style="left:2654.37px;top:207.20px;background:#d8d6f1"></i><i style="left:2684.21px;top:207.20px;background:#d3d0f0"></i><i style="left:2714.05px;top:207.20px;background:#cecaef"></i><i style="left:2743.89px;top:207.20px;background:#cac7ee"></i><i style="left:2773.73px;top:207.20px;background:#4f43d5"></i><i style="left:2803.57px;top:207.20px;background:#cfccef"></i><i style="left:2833.42px;top:207.20px;background:#d5d2f0"></i><i style="left:2863.26px;top:207.20px;background:#d3d0f0"></i><i style="left:2176.90px;top:231.20px;background:#d3d0f0"></i><i style="left:2206.74px;top:231.20px;background:#847be0"></i><i style="left:2236.58px;top:231.20px;background:#b5b0ea"></i><i style="left:2266.43px;top:231.20px;background:#cac7ee"></i><i style="left:2296.27px;top:231.20px;background:#b9b4eb"></i><i style="left:2326.11px;top:231.20px;background:#dad8f1"></i><i style="left:2355.95px;top:231.20px;background:#d1cef0"></i><i style="left:2385.79px;top:231.20px;background:#d1cef0"></i><i style="left:2415.63px;top:231.20px;background:#a9a3e7"></i><i style="left:2445.47px;top:231.20px;background:#cecaef"></i><i style="left:2475.32px;top:231.20px;background:#d1cef0"></i><i style="left:2505.16px;top:231.20px;background:#cecaef"></i><i style="left:2535.00px;top:231.20px;background:#c5c1ed"></i><i style="left:2564.84px;top:231.20px;background:#cfccef"></i><i style="left:2594.68px;top:231.20px;background:#d3d0f0"></i><i style="left:2624.53px;top:231.20px;background:#cfccef"></i><i style="left:2654.37px;top:231.20px;background:#d7d4f1"></i><i style="left:2684.21px;top:231.20px;background:#b7b2ea"></i><i style="left:2714.05px;top:231.20px;background:#bcb8eb"></i><i style="left:2743.89px;top:231.20px;background:#bcb8eb"></i><i style="left:2773.73px;top:231.20px;background:#867de0"></i><i style="left:2803.57px;top:231.20px;background:#a9a3e7"></i><i style="left:2833.42px;top:231.20px;background:#c1bdec"></i><i style="left:2863.26px;top:231.20px;background:#b9b4eb"></i><i style="left:2176.90px;top:255.20px;background:#d3d0f0"></i><i style="left:2206.74px;top:255.20px;background:#cfccef"></i><i style="left:2236.58px;top:255.20px;background:#d3d0f0"></i><i style="left:2266.43px;top:255.20px;background:#ccc8ef"></i><i style="left:2296.27px;top:255.20px;background:#c0bbec"></i><i style="left:2326.11px;top:255.20px;background:#d7d4f1"></i><i style="left:2355.95px;top:255.20px;background:#d5d2f0"></i><i style="left:2385.79px;top:255.20px;background:#d7d4f1"></i><i style="left:2415.63px;top:255.20px;background:#847be0"></i><i style="left:2445.47px;top:255.20px;background:#d3d0f0"></i><i style="left:2475.32px;top:255.20px;background:#d3d0f0"></i><i style="left:2505.16px;top:255.20px;background:#d5d2f0"></i><i style="left:2535.00px;top:255.20px;background:#d8d6f1"></i><i style="left:2564.84px;top:255.20px;background:#cfccef"></i><i style="left:2594.68px;top:255.20px;background:#b2ace9"></i><i style="left:2624.53px;top:255.20px;background:#d1cef0"></i><i style="left:2654.37px;top:255.20px;background:#cfccef"></i><i style="left:2684.21px;top:255.20px;background:#d7d4f1"></i><i style="left:2714.05px;top:255.20px;background:#d5d2f0"></i><i style="left:2743.89px;top:255.20px;background:#dcd9f2"></i><i style="left:2773.73px;top:255.20px;background:#4f43d5"></i><i style="left:2803.57px;top:255.20px;background:#d1cef0"></i><i style="left:2833.42px;top:255.20px;background:#d3d0f0"></i><i style="left:2863.26px;top:255.20px;background:#d5d2f0"></i><i style="left:2176.90px;top:279.20px;background:#b2ace9"></i><i style="left:2206.74px;top:279.20px;background:#bcb8eb"></i><i style="left:2236.58px;top:279.20px;background:#b7b2ea"></i><i style="left:2266.43px;top:279.20px;background:#b5b0ea"></i><i style="left:2296.27px;top:279.20px;background:#b9b4eb"></i><i style="left:2326.11px;top:279.20px;background:#beb9ec"></i><i style="left:2355.95px;top:279.20px;background:#a9a3e7"></i><i style="left:2385.79px;top:279.20px;background:#b9b4eb"></i><i style="left:2415.63px;top:279.20px;background:#8d85e2"></i><i style="left:2445.47px;top:279.20px;background:#d8d6f1"></i><i style="left:2475.32px;top:279.20px;background:#d8d6f1"></i><i style="left:2505.16px;top:279.20px;background:#cecaef"></i><i style="left:2535.00px;top:279.20px;background:#dad8f1"></i><i style="left:2564.84px;top:279.20px;background:#c5c1ed"></i><i style="left:2594.68px;top:279.20px;background:#d8d6f1"></i><i style="left:2624.53px;top:279.20px;background:#dedbf2"></i><i style="left:2654.37px;top:279.20px;background:#d8d6f1"></i><i style="left:2684.21px;top:279.20px;background:#d7d4f1"></i><i style="left:2714.05px;top:279.20px;background:#d7d4f1"></i><i style="left:2743.89px;top:279.20px;background:#d7d4f1"></i><i style="left:2773.73px;top:279.20px;background:#5449d6"></i><i style="left:2803.57px;top:279.20px;background:#d7d4f1"></i><i style="left:2833.42px;top:279.20px;background:#d3d0f0"></i><i style="left:2863.26px;top:279.20px;background:#d3d0f0"></i><i style="left:2535.00px;top:303.20px;background:#c1bdec"></i><i style="left:2564.84px;top:303.20px;background:#bcb8eb"></i><i style="left:2594.68px;top:303.20px;background:#b5b0ea"></i><i style="left:2624.53px;top:303.20px;background:#c3bfed"></i><i style="left:2654.37px;top:303.20px;background:#bcb8eb"></i><i style="left:2684.21px;top:303.20px;background:#c0bbec"></i><i style="left:2714.05px;top:303.20px;background:#b2ace9"></i><i style="left:2743.89px;top:303.20px;background:#c3bfed"></i><i style="left:2773.73px;top:303.20px;background:#7970de"></i><i style="left:2803.57px;top:303.20px;background:#a39de6"></i><i style="left:2833.42px;top:303.20px;background:#beb9ec"></i><i style="left:2863.26px;top:303.20px;background:#9e98e5"></i></div><div class="card" style="left:339px;top:386.2px;width:851px;height:300px"></div><div class="hm h22"><i style="left:443.80px;top:451.40px;background:#f7f8fa"></i><i style="left:473.64px;top:451.40px;background:#f7f8fa"></i><i style="left:503.48px;top:451.40px;background:#f7f8fa"></i><i style="left:533.33px;top:451.40px;background:#f7f8fa"></i><i style="left:563.17px;top:451.40px;background:#f7f8fa"></i><i style="left:593.01px;top:451.40px;background:#f7f8fa"></i><i style="left:622.85px;top:451.40px;background:#f7f8fa"></i><i style="left:652.69px;top:451.40px;background:#f7f8fa"></i><i style="left:682.53px;top:451.40px;background:#f7f8fa"></i><i style="left:712.38px;top:451.40px;background:#f7f8fa"></i><i style="left:742.22px;top:451.40px;background:#f7f8fa"></i><i style="left:772.06px;top:451.40px;background:#f7f8fa"></i><i style="left:801.90px;top:451.40px;background:#f7f8fa"></i><i style="left:443.80px;top:475.40px;background:#f7f8fa"></i><i style="left:473.64px;top:475.40px;background:#f7f8fa"></i><i style="left:503.48px;top:475.40px;background:#f7f8fa"></i><i style="left:533.33px;top:475.40px;background:#f7f8fa"></i><i style="left:563.17px;top:475.40px;background:#f7f8fa"></i><i style="left:593.01px;top:475.40px;background:#f7f8fa"></i><i style="left:622.85px;top:475.40px;background:#f7f8fa"></i><i style="left:652.69px;top:475.40px;background:#f7f8fa"></i><i style="left:682.53px;top:475.40px;background:#f7f8fa"></i><i style="left:712.38px;top:475.40px;background:#f7f8fa"></i><i style="left:742.22px;top:475.40px;background:#f7f8fa"></i><i style="left:772.06px;top:475.40px;background:#f7f8fa"></i><i style="left:801.90px;top:475.40px;background:#f7f8fa"></i><i style="left:831.74px;top:475.40px;background:#f7f8fa"></i><i style="left:861.58px;top:475.40px;background:#f7f8fa"></i><i style="left:891.42px;top:475.40px;background:#f7f8fa"></i><i style="left:921.27px;top:475.40px;background:#f7f8fa"></i><i style="left:951.11px;top:475.40px;background:#f7f8fa"></i><i style="left:980.95px;top:475.40px;background:#f7f8fa"></i><i style="left:1010.79px;top:475.40px;background:#f7f8fa"></i><i style="left:1040.63px;top:475.40px;background:#f5ecdf"></i><i style="left:1070.47px;top:475.40px;background:#f7f8fa"></i><i style="left:1100.32px;top:475.40px;background:#f7f8fa"></i><i style="left:1130.16px;top:475.40px;background:#f7f8fa"></i><i style="left:443.80px;top:499.40px;background:#f7f8fa"></i><i style="left:473.64px;top:499.40px;background:#f7f8fa"></i><i style="left:503.48px;top:499.40px;background:#f7f8fa"></i><i style="left:533.33px;top:499.40px;background:#f7f8fa"></i><i style="left:563.17px;top:499.40px;background:#f7f8fa"></i><i style="left:593.01px;top:499.40px;background:#f7f8fa"></i><i style="left:622.85px;top:499.40px;background:#f7f8fa"></i><i style="left:652.69px;top:499.40px;background:#f7f8fa"></i><i style="left:682.53px;top:499.40px;background:#f7f8fa"></i><i style="left:712.38px;top:499.40px;background:#f7f8fa"></i><i style="left:742.22px;top:499.40px;background:#f7f8fa"></i><i style="left:772.06px;top:499.40px;background:#f7f8fa"></i><i style="left:801.90px;top:499.40px;background:#f7f8fa"></i><i style="left:831.74px;top:499.40px;background:#f7f8fa"></i><i style="left:861.58px;top:499.40px;background:#f7f8fa"></i><i style="left:891.42px;top:499.40px;background:#f5ecdf"></i><i style="left:921.27px;top:499.40px;background:#f7f8fa"></i><i style="left:951.11px;top:499.40px;background:#f7f8fa"></i><i style="left:980.95px;top:499.40px;background:#f7f8fa"></i><i style="left:1010.79px;top:499.40px;background:#f7f8fa"></i><i style="left:1040.63px;top:499.40px;background:#f5ecdf"></i><i style="left:1070.47px;top:499.40px;background:#f7f8fa"></i><i style="left:1100.32px;top:499.40px;background:#f7f8fa"></i><i style="left:1130.16px;top:499.40px;background:#f7f8fa"></i><i style="left:443.80px;top:523.40px;background:#f7f8fa"></i><i style="left:473.64px;top:523.40px;background:#f7f8fa"></i><i style="left:503.48px;top:523.40px;background:#f7f8fa"></i><i style="left:533.33px;top:523.40px;background:#f7f8fa"></i><i style="left:563.17px;top:523.40px;background:#f7f8fa"></i><i style="left:593.01px;top:523.40px;background:#f7f8fa"></i><i style="left:622.85px;top:523.40px;background:#f7f8fa"></i><i style="left:652.69px;top:523.40px;background:#f7f8fa"></i><i style="left:682.53px;top:523.40px;background:#f7f8fa"></i><i style="left:712.38px;top:523.40px;background:#f7f8fa"></i><i style="left:742.22px;top:523.40px;background:#f7f8fa"></i><i style="left:772.06px;top:523.40px;background:#f7f8fa"></i><i style="left:801.90px;top:523.40px;background:#f7f8fa"></i><i style="left:831.74px;top:523.40px;background:#f7f8fa"></i><i style="left:861.58px;top:523.40px;background:#f7f8fa"></i><i style="left:891.42px;top:523.40px;background:#f7f8fa"></i><i style="left:921.27px;top:523.40px;background:#f7f8fa"></i><i style="left:951.11px;top:523.40px;background:#f7f8fa"></i><i style="left:980.95px;top:523.40px;background:#f7f8fa"></i><i style="left:1010.79px;top:523.40px;background:#f7f8fa"></i><i style="left:1040.63px;top:523.40px;background:#f5ecdf"></i><i style="left:1070.47px;top:523.40px;background:#f7f8fa"></i><i style="left:1100.32px;top:523.40px;background:#f7f8fa"></i><i style="left:1130.16px;top:523.40px;background:#f7f8fa"></i><i style="left:443.80px;top:547.40px;background:#f7f8fa"></i><i style="left:473.64px;top:547.40px;background:#f7f8fa"></i><i style="left:503.48px;top:547.40px;background:#f7f8fa"></i><i style="left:533.33px;top:547.40px;background:#f7f8fa"></i><i style="left:563.17px;top:547.40px;background:#f7f8fa"></i><i style="left:593.01px;top:547.40px;background:#f7f8fa"></i><i style="left:622.85px;top:547.40px;background:#f7f8fa"></i><i style="left:652.69px;top:547.40px;background:#f7f8fa"></i><i style="left:682.53px;top:547.40px;background:#f7f8fa"></i><i style="left:712.38px;top:547.40px;background:#f7f8fa"></i><i style="left:742.22px;top:547.40px;background:#f7f8fa"></i><i style="left:772.06px;top:547.40px;background:#f7f8fa"></i><i style="left:801.90px;top:547.40px;background:#f7f8fa"></i><i style="left:831.74px;top:547.40px;background:#f7f8fa"></i><i style="left:861.58px;top:547.40px;background:#f7f8fa"></i><i style="left:891.42px;top:547.40px;background:#f7f8fa"></i><i style="left:921.27px;top:547.40px;background:#f7f8fa"></i><i style="left:951.11px;top:547.40px;background:#f7f8fa"></i><i style="left:980.95px;top:547.40px;background:#f7f8fa"></i><i style="left:1010.79px;top:547.40px;background:#f7f8fa"></i><i style="left:1040.63px;top:547.40px;background:#f5ecdf"></i><i style="left:1070.47px;top:547.40px;background:#f7f8fa"></i><i style="left:1100.32px;top:547.40px;background:#f7f8fa"></i><i style="left:1130.16px;top:547.40px;background:#f7f8fa"></i><i style="left:443.80px;top:571.40px;background:#f7f8fa"></i><i style="left:473.64px;top:571.40px;background:#f7f8fa"></i><i style="left:503.48px;top:571.40px;background:#f7f8fa"></i><i style="left:533.33px;top:571.40px;background:#f7f8fa"></i><i style="left:563.17px;top:571.40px;background:#f7f8fa"></i><i style="left:593.01px;top:571.40px;background:#f7f8fa"></i><i style="left:622.85px;top:571.40px;background:#f7f8fa"></i><i style="left:652.69px;top:571.40px;background:#f7f8fa"></i><i style="left:682.53px;top:571.40px;background:#f7f8fa"></i><i style="left:712.38px;top:571.40px;background:#f7f8fa"></i><i style="left:742.22px;top:571.40px;background:#f7f8fa"></i><i style="left:772.06px;top:571.40px;background:#f7f8fa"></i><i style="left:801.90px;top:571.40px;background:#f7f8fa"></i><i style="left:831.74px;top:571.40px;background:#f7f8fa"></i><i style="left:861.58px;top:571.40px;background:#f7f8fa"></i><i style="left:891.42px;top:571.40px;background:#f7f8fa"></i><i style="left:921.27px;top:571.40px;background:#f7f8fa"></i><i style="left:951.11px;top:571.40px;background:#f7f8fa"></i><i style="left:980.95px;top:571.40px;background:#f7f8fa"></i><i style="left:1010.79px;top:571.40px;background:#f7f8fa"></i><i style="left:1040.63px;top:571.40px;background:#f7f8fa"></i><i style="left:1070.47px;top:571.40px;background:#f7f8fa"></i><i style="left:1100.32px;top:571.40px;background:#f7f8fa"></i><i style="left:1130.16px;top:571.40px;background:#f7f8fa"></i><i style="left:443.80px;top:595.40px;background:#f7f8fa"></i><i style="left:473.64px;top:595.40px;background:#f7f8fa"></i><i style="left:503.48px;top:595.40px;background:#f7f8fa"></i><i style="left:533.33px;top:595.40px;background:#f7f8fa"></i><i style="left:563.17px;top:595.40px;background:#f7f8fa"></i><i style="left:593.01px;top:595.40px;background:#f7f8fa"></i><i style="left:622.85px;top:595.40px;background:#f7f8fa"></i><i style="left:652.69px;top:595.40px;background:#f7f8fa"></i><i style="left:682.53px;top:595.40px;background:#f7f8fa"></i><i style="left:712.38px;top:595.40px;background:#f7f8fa"></i><i style="left:742.22px;top:595.40px;background:#f7f8fa"></i><i style="left:772.06px;top:595.40px;background:#f7f8fa"></i><i style="left:801.90px;top:595.40px;background:#f7f8fa"></i><i style="left:831.74px;top:595.40px;background:#f7f8fa"></i><i style="left:861.58px;top:595.40px;background:#f7f8fa"></i><i style="left:891.42px;top:595.40px;background:#f7f8fa"></i><i style="left:921.27px;top:595.40px;background:#f7f8fa"></i><i style="left:951.11px;top:595.40px;background:#f7f8fa"></i><i style="left:980.95px;top:595.40px;background:#f7f8fa"></i><i style="left:1010.79px;top:595.40px;background:#f7f8fa"></i><i style="left:1040.63px;top:595.40px;background:#f7f8fa"></i><i style="left:1070.47px;top:595.40px;background:#f7f8fa"></i><i style="left:1100.32px;top:595.40px;background:#f7f8fa"></i><i style="left:1130.16px;top:595.40px;background:#f7f8fa"></i><i style="left:801.90px;top:619.40px;background:#f7f8fa"></i><i style="left:831.74px;top:619.40px;background:#f7f8fa"></i><i style="left:861.58px;top:619.40px;background:#eda63f"></i><i style="left:891.42px;top:619.40px;background:#f7f8fa"></i><i style="left:921.27px;top:619.40px;background:#f7f8fa"></i><i style="left:951.11px;top:619.40px;background:#f7f8fa"></i><i style="left:980.95px;top:619.40px;background:#f7f8fa"></i><i style="left:1010.79px;top:619.40px;background:#f7f8fa"></i><i style="left:1040.63px;top:619.40px;background:#f7f8fa"></i><i style="left:1070.47px;top:619.40px;background:#f7f8fa"></i><i style="left:1100.32px;top:619.40px;background:#f7f8fa"></i><i style="left:1130.16px;top:619.40px;background:#f7f8fa"></i></div><div class="card" style="left:1206px;top:386.2px;width:850px;height:300px"></div><div class="hm h22"><i style="left:1310.20px;top:451.40px;background:#f7f8fa"></i><i style="left:1340.04px;top:451.40px;background:#f7f8fa"></i><i style="left:1369.88px;top:451.40px;background:#f7f8fa"></i><i style="left:1399.72px;top:451.40px;background:#f7f8fa"></i><i style="left:1429.57px;top:451.40px;background:#f7f8fa"></i><i style="left:1459.41px;top:451.40px;background:#f7f8fa"></i><i style="left:1489.25px;top:451.40px;background:#f7f8fa"></i><i style="left:1519.09px;top:451.40px;background:#f7f8fa"></i><i style="left:1548.93px;top:451.40px;background:#f7f8fa"></i><i style="left:1578.78px;top:451.40px;background:#f7f8fa"></i><i style="left:1608.62px;top:451.40px;background:#f7f8fa"></i><i style="left:1638.46px;top:451.40px;background:#f7f8fa"></i><i style="left:1668.30px;top:451.40px;background:#f7f8fa"></i><i style="left:1310.20px;top:475.40px;background:#f7f8fa"></i><i style="left:1340.04px;top:475.40px;background:#f7f8fa"></i><i style="left:1369.88px;top:475.40px;background:#f7f8fa"></i><i style="left:1399.72px;top:475.40px;background:#f7f8fa"></i><i style="left:1429.57px;top:475.40px;background:#f7f8fa"></i><i style="left:1459.41px;top:475.40px;background:#f7f8fa"></i><i style="left:1489.25px;top:475.40px;background:#f7f8fa"></i><i style="left:1519.09px;top:475.40px;background:#f7f8fa"></i><i style="left:1548.93px;top:475.40px;background:#f7f8fa"></i><i style="left:1578.78px;top:475.40px;background:#f7f8fa"></i><i style="left:1608.62px;top:475.40px;background:#f7f8fa"></i><i style="left:1638.46px;top:475.40px;background:#f7f8fa"></i><i style="left:1668.30px;top:475.40px;background:#f7f8fa"></i><i style="left:1698.14px;top:475.40px;background:#f7f8fa"></i><i style="left:1727.98px;top:475.40px;background:#f7f8fa"></i><i style="left:1757.83px;top:475.40px;background:#f7f8fa"></i><i style="left:1787.67px;top:475.40px;background:#f7f8fa"></i><i style="left:1817.51px;top:475.40px;background:#f7f8fa"></i><i style="left:1847.35px;top:475.40px;background:#f7f8fa"></i><i style="left:1877.19px;top:475.40px;background:#f7f8fa"></i><i style="left:1907.03px;top:475.40px;background:#f7f8fa"></i><i style="left:1936.88px;top:475.40px;background:#f7f8fa"></i><i style="left:1966.72px;top:475.40px;background:#f7f8fa"></i><i style="left:1996.56px;top:475.40px;background:#f7f8fa"></i><i style="left:1310.20px;top:499.40px;background:#f7f8fa"></i><i style="left:1340.04px;top:499.40px;background:#f7f8fa"></i><i style="left:1369.88px;top:499.40px;background:#f7f8fa"></i><i style="left:1399.72px;top:499.40px;background:#f7f8fa"></i><i style="left:1429.57px;top:499.40px;background:#f7f8fa"></i><i style="left:1459.41px;top:499.40px;background:#f7f8fa"></i><i style="left:1489.25px;top:499.40px;background:#f7f8fa"></i><i style="left:1519.09px;top:499.40px;background:#f7f8fa"></i><i style="left:1548.93px;top:499.40px;background:#f7f8fa"></i><i style="left:1578.78px;top:499.40px;background:#f7f8fa"></i><i style="left:1608.62px;top:499.40px;background:#f7f8fa"></i><i style="left:1638.46px;top:499.40px;background:#f7f8fa"></i><i style="left:1668.30px;top:499.40px;background:#f7f8fa"></i><i style="left:1698.14px;top:499.40px;background:#f7f8fa"></i><i style="left:1727.98px;top:499.40px;background:#f7f8fa"></i><i style="left:1757.83px;top:499.40px;background:#f7f8fa"></i><i style="left:1787.67px;top:499.40px;background:#f7f8fa"></i><i style="left:1817.51px;top:499.40px;background:#f7f8fa"></i><i style="left:1847.35px;top:499.40px;background:#f7f8fa"></i><i style="left:1877.19px;top:499.40px;background:#f7f8fa"></i><i style="left:1907.03px;top:499.40px;background:#b8392b"></i><i style="left:1936.88px;top:499.40px;background:#f7f8fa"></i><i style="left:1966.72px;top:499.40px;background:#f7f8fa"></i><i style="left:1996.56px;top:499.40px;background:#f7f8fa"></i><i style="left:1310.20px;top:523.40px;background:#f7f8fa"></i><i style="left:1340.04px;top:523.40px;background:#f7f8fa"></i><i style="left:1369.88px;top:523.40px;background:#f7f8fa"></i><i style="left:1399.72px;top:523.40px;background:#f7f8fa"></i><i style="left:1429.57px;top:523.40px;background:#f7f8fa"></i><i style="left:1459.41px;top:523.40px;background:#f7f8fa"></i><i style="left:1489.25px;top:523.40px;background:#f7f8fa"></i><i style="left:1519.09px;top:523.40px;background:#f7f8fa"></i><i style="left:1548.93px;top:523.40px;background:#f7f8fa"></i><i style="left:1578.78px;top:523.40px;background:#f7f8fa"></i><i style="left:1608.62px;top:523.40px;background:#f7f8fa"></i><i style="left:1638.46px;top:523.40px;background:#f7f8fa"></i><i style="left:1668.30px;top:523.40px;background:#f7f8fa"></i><i style="left:1698.14px;top:523.40px;background:#f7f8fa"></i><i style="left:1727.98px;top:523.40px;background:#f7f8fa"></i><i style="left:1757.83px;top:523.40px;background:#f7f8fa"></i><i style="left:1787.67px;top:523.40px;background:#f7f8fa"></i><i style="left:1817.51px;top:523.40px;background:#f7f8fa"></i><i style="left:1847.35px;top:523.40px;background:#f7f8fa"></i><i style="left:1877.19px;top:523.40px;background:#f7f8fa"></i><i style="left:1907.03px;top:523.40px;background:#f7f8fa"></i><i style="left:1936.88px;top:523.40px;background:#f7f8fa"></i><i style="left:1966.72px;top:523.40px;background:#f7f8fa"></i><i style="left:1996.56px;top:523.40px;background:#f7f8fa"></i><i style="left:1310.20px;top:547.40px;background:#f7f8fa"></i><i style="left:1340.04px;top:547.40px;background:#f7f8fa"></i><i style="left:1369.88px;top:547.40px;background:#f7f8fa"></i><i style="left:1399.72px;top:547.40px;background:#f7f8fa"></i><i style="left:1429.57px;top:547.40px;background:#f7f8fa"></i><i style="left:1459.41px;top:547.40px;background:#f7f8fa"></i><i style="left:1489.25px;top:547.40px;background:#f7f8fa"></i><i style="left:1519.09px;top:547.40px;background:#f7f8fa"></i><i style="left:1548.93px;top:547.40px;background:#f7f8fa"></i><i style="left:1578.78px;top:547.40px;background:#f7f8fa"></i><i style="left:1608.62px;top:547.40px;background:#f7f8fa"></i><i style="left:1638.46px;top:547.40px;background:#f7f8fa"></i><i style="left:1668.30px;top:547.40px;background:#f7f8fa"></i><i style="left:1698.14px;top:547.40px;background:#f7f8fa"></i><i style="left:1727.98px;top:547.40px;background:#f7f8fa"></i><i style="left:1757.83px;top:547.40px;background:#f7f8fa"></i><i style="left:1787.67px;top:547.40px;background:#f7f8fa"></i><i style="left:1817.51px;top:547.40px;background:#f7f8fa"></i><i style="left:1847.35px;top:547.40px;background:#f7f8fa"></i><i style="left:1877.19px;top:547.40px;background:#f7f8fa"></i><i style="left:1907.03px;top:547.40px;background:#b8392b"></i><i style="left:1936.88px;top:547.40px;background:#f7f8fa"></i><i style="left:1966.72px;top:547.40px;background:#f7f8fa"></i><i style="left:1996.56px;top:547.40px;background:#f7f8fa"></i><i style="left:1310.20px;top:571.40px;background:#f7f8fa"></i><i style="left:1340.04px;top:571.40px;background:#f7f8fa"></i><i style="left:1369.88px;top:571.40px;background:#f7f8fa"></i><i style="left:1399.72px;top:571.40px;background:#f7f8fa"></i><i style="left:1429.57px;top:571.40px;background:#f7f8fa"></i><i style="left:1459.41px;top:571.40px;background:#f7f8fa"></i><i style="left:1489.25px;top:571.40px;background:#f7f8fa"></i><i style="left:1519.09px;top:571.40px;background:#f7f8fa"></i><i style="left:1548.93px;top:571.40px;background:#f7f8fa"></i><i style="left:1578.78px;top:571.40px;background:#f7f8fa"></i><i style="left:1608.62px;top:571.40px;background:#f7f8fa"></i><i style="left:1638.46px;top:571.40px;background:#f7f8fa"></i><i style="left:1668.30px;top:571.40px;background:#f7f8fa"></i><i style="left:1698.14px;top:571.40px;background:#f7f8fa"></i><i style="left:1727.98px;top:571.40px;background:#f7f8fa"></i><i style="left:1757.83px;top:571.40px;background:#f7f8fa"></i><i style="left:1787.67px;top:571.40px;background:#f7f8fa"></i><i style="left:1817.51px;top:571.40px;background:#f7f8fa"></i><i style="left:1847.35px;top:571.40px;background:#f7f8fa"></i><i style="left:1877.19px;top:571.40px;background:#f7f8fa"></i><i style="left:1907.03px;top:571.40px;background:#f7f8fa"></i><i style="left:1936.88px;top:571.40px;background:#f7f8fa"></i><i style="left:1966.72px;top:571.40px;background:#f7f8fa"></i><i style="left:1996.56px;top:571.40px;background:#f7f8fa"></i><i style="left:1310.20px;top:595.40px;background:#f7f8fa"></i><i style="left:1340.04px;top:595.40px;background:#f7f8fa"></i><i style="left:1369.88px;top:595.40px;background:#f7f8fa"></i><i style="left:1399.72px;top:595.40px;background:#f7f8fa"></i><i style="left:1429.57px;top:595.40px;background:#f7f8fa"></i><i style="left:1459.41px;top:595.40px;background:#f7f8fa"></i><i style="left:1489.25px;top:595.40px;background:#f7f8fa"></i><i style="left:1519.09px;top:595.40px;background:#f7f8fa"></i><i style="left:1548.93px;top:595.40px;background:#f7f8fa"></i><i style="left:1578.78px;top:595.40px;background:#f7f8fa"></i><i style="left:1608.62px;top:595.40px;background:#f7f8fa"></i><i style="left:1638.46px;top:595.40px;background:#f7f8fa"></i><i style="left:1668.30px;top:595.40px;background:#f7f8fa"></i><i style="left:1698.14px;top:595.40px;background:#f7f8fa"></i><i style="left:1727.98px;top:595.40px;background:#f7f8fa"></i><i style="left:1757.83px;top:595.40px;background:#f7f8fa"></i><i style="left:1787.67px;top:595.40px;background:#f7f8fa"></i><i style="left:1817.51px;top:595.40px;background:#f7f8fa"></i><i style="left:1847.35px;top:595.40px;background:#f7f8fa"></i><i style="left:1877.19px;top:595.40px;background:#f7f8fa"></i><i style="left:1907.03px;top:595.40px;background:#b8392b"></i><i style="left:1936.88px;top:595.40px;background:#f7f8fa"></i><i style="left:1966.72px;top:595.40px;background:#f7f8fa"></i><i style="left:1996.56px;top:595.40px;background:#f7f8fa"></i><i style="left:1668.30px;top:619.40px;background:#f7f8fa"></i><i style="left:1698.14px;top:619.40px;background:#f7f8fa"></i><i style="left:1727.98px;top:619.40px;background:#f7f8fa"></i><i style="left:1757.83px;top:619.40px;background:#f7f8fa"></i><i style="left:1787.67px;top:619.40px;background:#f7f8fa"></i><i style="left:1817.51px;top:619.40px;background:#f7f8fa"></i><i style="left:1847.35px;top:619.40px;background:#f7f8fa"></i><i style="left:1877.19px;top:619.40px;background:#f7f8fa"></i><i style="left:1907.03px;top:619.40px;background:#f7f8fa"></i><i style="left:1936.88px;top:619.40px;background:#f7f8fa"></i><i style="left:1966.72px;top:619.40px;background:#f7f8fa"></i><i style="left:1996.56px;top:619.40px;background:#f7f8fa"></i></div><div class="card" style="left:2072px;top:386.2px;width:851px;height:300px"></div><div class="hm h22"><i style="left:2176.90px;top:451.40px;background:#f7f8fa"></i><i style="left:2206.74px;top:451.40px;background:#f7f8fa"></i><i style="left:2236.58px;top:451.40px;background:#f7f8fa"></i><i style="left:2266.43px;top:451.40px;background:#f7f8fa"></i><i style="left:2296.27px;top:451.40px;background:#f7f8fa"></i><i style="left:2326.11px;top:451.40px;background:#f7f8fa"></i><i style="left:2355.95px;top:451.40px;background:#f7f8fa"></i><i style="left:2385.79px;top:451.40px;background:#f7f8fa"></i><i style="left:2415.63px;top:451.40px;background:#f7f8fa"></i><i style="left:2445.47px;top:451.40px;background:#f7f8fa"></i><i style="left:2475.32px;top:451.40px;background:#f7f8fa"></i><i style="left:2505.16px;top:451.40px;background:#f7f8fa"></i><i style="left:2535.00px;top:451.40px;background:#f7f8fa"></i><i style="left:2176.90px;top:475.40px;background:#f7f8fa"></i><i style="left:2206.74px;top:475.40px;background:#f7f8fa"></i><i style="left:2236.58px;top:475.40px;background:#f7f8fa"></i><i style="left:2266.43px;top:475.40px;background:#f7f8fa"></i><i style="left:2296.27px;top:475.40px;background:#f7f8fa"></i><i style="left:2326.11px;top:475.40px;background:#f7f8fa"></i><i style="left:2355.95px;top:475.40px;background:#f7f8fa"></i><i style="left:2385.79px;top:475.40px;background:#f7f8fa"></i><i style="left:2415.63px;top:475.40px;background:#f7f8fa"></i><i style="left:2445.47px;top:475.40px;background:#f7f8fa"></i><i style="left:2475.32px;top:475.40px;background:#f7f8fa"></i><i style="left:2505.16px;top:475.40px;background:#f7f8fa"></i><i style="left:2535.00px;top:475.40px;background:#f7f8fa"></i><i style="left:2564.84px;top:475.40px;background:#f7f8fa"></i><i style="left:2594.68px;top:475.40px;background:#f7f8fa"></i><i style="left:2624.53px;top:475.40px;background:#f7f8fa"></i><i style="left:2654.37px;top:475.40px;background:#f7f8fa"></i><i style="left:2684.21px;top:475.40px;background:#f7f8fa"></i><i style="left:2714.05px;top:475.40px;background:#f7f8fa"></i><i style="left:2743.89px;top:475.40px;background:#f7f8fa"></i><i style="left:2773.73px;top:475.40px;background:#f7f8fa"></i><i style="left:2803.57px;top:475.40px;background:#f7f8fa"></i><i style="left:2833.42px;top:475.40px;background:#f7f8fa"></i><i style="left:2863.26px;top:475.40px;background:#f7f8fa"></i><i style="left:2176.90px;top:499.40px;background:#f7f8fa"></i><i style="left:2206.74px;top:499.40px;background:#f7f8fa"></i><i style="left:2236.58px;top:499.40px;background:#f7f8fa"></i><i style="left:2266.43px;top:499.40px;background:#f7f8fa"></i><i style="left:2296.27px;top:499.40px;background:#f7f8fa"></i><i style="left:2326.11px;top:499.40px;background:#f7f8fa"></i><i style="left:2355.95px;top:499.40px;background:#f7f8fa"></i><i style="left:2385.79px;top:499.40px;background:#f7f8fa"></i><i style="left:2415.63px;top:499.40px;background:#f7f8fa"></i><i style="left:2445.47px;top:499.40px;background:#f7f8fa"></i><i style="left:2475.32px;top:499.40px;background:#f7f8fa"></i><i style="left:2505.16px;top:499.40px;background:#f7f8fa"></i><i style="left:2535.00px;top:499.40px;background:#f7f8fa"></i><i style="left:2564.84px;top:499.40px;background:#f7f8fa"></i><i style="left:2594.68px;top:499.40px;background:#f7f8fa"></i><i style="left:2624.53px;top:499.40px;background:#f7f8fa"></i><i style="left:2654.37px;top:499.40px;background:#f7f8fa"></i><i style="left:2684.21px;top:499.40px;background:#f7f8fa"></i><i style="left:2714.05px;top:499.40px;background:#f7f8fa"></i><i style="left:2743.89px;top:499.40px;background:#f7f8fa"></i><i style="left:2773.73px;top:499.40px;background:#f7f8fa"></i><i style="left:2803.57px;top:499.40px;background:#f7f8fa"></i><i style="left:2833.42px;top:499.40px;background:#f7f8fa"></i><i style="left:2863.26px;top:499.40px;background:#f7f8fa"></i><i style="left:2176.90px;top:523.40px;background:#f7f8fa"></i><i style="left:2206.74px;top:523.40px;background:#f7f8fa"></i><i style="left:2236.58px;top:523.40px;background:#f7f8fa"></i><i style="left:2266.43px;top:523.40px;background:#f7f8fa"></i><i style="left:2296.27px;top:523.40px;background:#f7f8fa"></i><i style="left:2326.11px;top:523.40px;background:#f7f8fa"></i><i style="left:2355.95px;top:523.40px;background:#f7f8fa"></i><i style="left:2385.79px;top:523.40px;background:#f7f8fa"></i><i style="left:2415.63px;top:523.40px;background:#f7f8fa"></i><i style="left:2445.47px;top:523.40px;background:#f7f8fa"></i><i style="left:2475.32px;top:523.40px;background:#f7f8fa"></i><i style="left:2505.16px;top:523.40px;background:#f7f8fa"></i><i style="left:2535.00px;top:523.40px;background:#f7f8fa"></i><i style="left:2564.84px;top:523.40px;background:#f7f8fa"></i><i style="left:2594.68px;top:523.40px;background:#f7f8fa"></i><i style="left:2624.53px;top:523.40px;background:#f7f8fa"></i><i style="left:2654.37px;top:523.40px;background:#f7f8fa"></i><i style="left:2684.21px;top:523.40px;background:#f7f8fa"></i><i style="left:2714.05px;top:523.40px;background:#f7f8fa"></i><i style="left:2743.89px;top:523.40px;background:#f7f8fa"></i><i style="left:2773.73px;top:523.40px;background:#f7f8fa"></i><i style="left:2803.57px;top:523.40px;background:#f7f8fa"></i><i style="left:2833.42px;top:523.40px;background:#f7f8fa"></i><i style="left:2863.26px;top:523.40px;background:#f7f8fa"></i><i style="left:2176.90px;top:547.40px;background:#f7f8fa"></i><i style="left:2206.74px;top:547.40px;background:#f7f8fa"></i><i style="left:2236.58px;top:547.40px;background:#f7f8fa"></i><i style="left:2266.43px;top:547.40px;background:#f7f8fa"></i><i style="left:2296.27px;top:547.40px;background:#f7f8fa"></i><i style="left:2326.11px;top:547.40px;background:#f7f8fa"></i><i style="left:2355.95px;top:547.40px;background:#f7f8fa"></i><i style="left:2385.79px;top:547.40px;background:#f7f8fa"></i><i style="left:2415.63px;top:547.40px;background:#f7f8fa"></i><i style="left:2445.47px;top:547.40px;background:#f7f8fa"></i><i style="left:2475.32px;top:547.40px;background:#f7f8fa"></i><i style="left:2505.16px;top:547.40px;background:#f7f8fa"></i><i style="left:2535.00px;top:547.40px;background:#f7f8fa"></i><i style="left:2564.84px;top:547.40px;background:#f7f8fa"></i><i style="left:2594.68px;top:547.40px;background:#f7f8fa"></i><i style="left:2624.53px;top:547.40px;background:#f7f8fa"></i><i style="left:2654.37px;top:547.40px;background:#f7f8fa"></i><i style="left:2684.21px;top:547.40px;background:#f7f8fa"></i><i style="left:2714.05px;top:547.40px;background:#f7f8fa"></i><i style="left:2743.89px;top:547.40px;background:#f7f8fa"></i><i style="left:2773.73px;top:547.40px;background:#f7f8fa"></i><i style="left:2803.57px;top:547.40px;background:#f7f8fa"></i><i style="left:2833.42px;top:547.40px;background:#f7f8fa"></i><i style="left:2863.26px;top:547.40px;background:#f7f8fa"></i><i style="left:2176.90px;top:571.40px;background:#f7f8fa"></i><i style="left:2206.74px;top:571.40px;background:#f7f8fa"></i><i style="left:2236.58px;top:571.40px;background:#f7f8fa"></i><i style="left:2266.43px;top:571.40px;background:#f7f8fa"></i><i style="left:2296.27px;top:571.40px;background:#f7f8fa"></i><i style="left:2326.11px;top:571.40px;background:#f7f8fa"></i><i style="left:2355.95px;top:571.40px;background:#f7f8fa"></i><i style="left:2385.79px;top:571.40px;background:#f7f8fa"></i><i style="left:2415.63px;top:571.40px;background:#f7f8fa"></i><i style="left:2445.47px;top:571.40px;background:#f7f8fa"></i><i style="left:2475.32px;top:571.40px;background:#f7f8fa"></i><i style="left:2505.16px;top:571.40px;background:#f7f8fa"></i><i style="left:2535.00px;top:571.40px;background:#f7f8fa"></i><i style="left:2564.84px;top:571.40px;background:#f7f8fa"></i><i style="left:2594.68px;top:571.40px;background:#f7f8fa"></i><i style="left:2624.53px;top:571.40px;background:#f7f8fa"></i><i style="left:2654.37px;top:571.40px;background:#f7f8fa"></i><i style="left:2684.21px;top:571.40px;background:#f7f8fa"></i><i style="left:2714.05px;top:571.40px;background:#f7f8fa"></i><i style="left:2743.89px;top:571.40px;background:#f7f8fa"></i><i style="left:2773.73px;top:571.40px;background:#f7f8fa"></i><i style="left:2803.57px;top:571.40px;background:#f7f8fa"></i><i style="left:2833.42px;top:571.40px;background:#f7f8fa"></i><i style="left:2863.26px;top:571.40px;background:#f7f8fa"></i><i style="left:2176.90px;top:595.40px;background:#f7f8fa"></i><i style="left:2206.74px;top:595.40px;background:#f7f8fa"></i><i style="left:2236.58px;top:595.40px;background:#f7f8fa"></i><i style="left:2266.43px;top:595.40px;background:#f7f8fa"></i><i style="left:2296.27px;top:595.40px;background:#f7f8fa"></i><i style="left:2326.11px;top:595.40px;background:#f7f8fa"></i><i style="left:2355.95px;top:595.40px;background:#f7f8fa"></i><i style="left:2385.79px;top:595.40px;background:#f7f8fa"></i><i style="left:2415.63px;top:595.40px;background:#f7f8fa"></i><i style="left:2445.47px;top:595.40px;background:#f7f8fa"></i><i style="left:2475.32px;top:595.40px;background:#f7f8fa"></i><i style="left:2505.16px;top:595.40px;background:#f7f8fa"></i><i style="left:2535.00px;top:595.40px;background:#f7f8fa"></i><i style="left:2564.84px;top:595.40px;background:#f7f8fa"></i><i style="left:2594.68px;top:595.40px;background:#f7f8fa"></i><i style="left:2624.53px;top:595.40px;background:#f7f8fa"></i><i style="left:2654.37px;top:595.40px;background:#f7f8fa"></i><i style="left:2684.21px;top:595.40px;background:#f7f8fa"></i><i style="left:2714.05px;top:595.40px;background:#f7f8fa"></i><i style="left:2743.89px;top:595.40px;background:#f7f8fa"></i><i style="left:2773.73px;top:595.40px;background:#f7f8fa"></i><i style="left:2803.57px;top:595.40px;background:#f7f8fa"></i><i style="left:2833.42px;top:595.40px;background:#f7f8fa"></i><i style="left:2863.26px;top:595.40px;background:#f7f8fa"></i><i style="left:2535.00px;top:619.40px;background:#f7f8fa"></i><i style="left:2564.84px;top:619.40px;background:#f7f8fa"></i><i style="left:2594.68px;top:619.40px;background:#f7f8fa"></i><i style="left:2624.53px;top:619.40px;background:#f7f8fa"></i><i style="left:2654.37px;top:619.40px;background:#f7f8fa"></i><i style="left:2684.21px;top:619.40px;background:#f7f8fa"></i><i style="left:2714.05px;top:619.40px;background:#f7f8fa"></i><i style="left:2743.89px;top:619.40px;background:#f7f8fa"></i><i style="left:2773.73px;top:619.40px;background:#f7f8fa"></i><i style="left:2803.57px;top:619.40px;background:#f7f8fa"></i><i style="left:2833.42px;top:619.40px;background:#f7f8fa"></i><i style="left:2863.26px;top:619.40px;background:#f7f8fa"></i></div><div class="card" style="left:339px;top:703px;width:851px;height:300px"></div><div class="hm"><i style="left:443.80px;top:768.20px;background:#f7f8fa"></i><i style="left:473.64px;top:768.20px;background:#f7f8fa"></i><i style="left:503.48px;top:768.20px;background:#f7f8fa"></i><i style="left:533.33px;top:768.20px;background:#f7f8fa"></i><i style="left:563.17px;top:768.20px;background:#f7f8fa"></i><i style="left:593.01px;top:768.20px;background:#f7f8fa"></i><i style="left:622.85px;top:768.20px;background:#f7f8fa"></i><i style="left:652.69px;top:768.20px;background:#f7f8fa"></i><i style="left:682.53px;top:768.20px;background:#f7f8fa"></i><i style="left:712.38px;top:768.20px;background:#f7f8fa"></i><i style="left:742.22px;top:768.20px;background:#f7f8fa"></i><i style="left:772.06px;top:768.20px;background:#f7f8fa"></i><i style="left:801.90px;top:768.20px;background:#f7f8fa"></i><i style="left:443.80px;top:792.20px;background:#f7f8fa"></i><i style="left:473.64px;top:792.20px;background:#f7f8fa"></i><i style="left:503.48px;top:792.20px;background:#f7f8fa"></i><i style="left:533.33px;top:792.20px;background:#f7f8fa"></i><i style="left:563.17px;top:792.20px;background:#f7f8fa"></i><i style="left:593.01px;top:792.20px;background:#f7f8fa"></i><i style="left:622.85px;top:792.20px;background:#f7f8fa"></i><i style="left:652.69px;top:792.20px;background:#f7f8fa"></i><i style="left:682.53px;top:792.20px;background:#f7f8fa"></i><i style="left:712.38px;top:792.20px;background:#f7f8fa"></i><i style="left:742.22px;top:792.20px;background:#f7f8fa"></i><i style="left:772.06px;top:792.20px;background:#f7f8fa"></i><i style="left:801.90px;top:792.20px;background:#f7f8fa"></i><i style="left:831.74px;top:792.20px;background:#f7f8fa"></i><i style="left:861.58px;top:792.20px;background:#f7f8fa"></i><i style="left:891.42px;top:792.20px;background:#f7f8fa"></i><i style="left:921.27px;top:792.20px;background:#f7f8fa"></i><i style="left:951.11px;top:792.20px;background:#f7f8fa"></i><i style="left:980.95px;top:792.20px;background:#f7f8fa"></i><i style="left:1010.79px;top:792.20px;background:#f7f8fa"></i><i style="left:1040.63px;top:792.20px;background:#8b83e1"></i><i style="left:1070.47px;top:792.20px;background:#f7f8fa"></i><i style="left:1100.32px;top:792.20px;background:#f7f8fa"></i><i style="left:1130.16px;top:792.20px;background:#f7f8fa"></i><i style="left:443.80px;top:816.20px;background:#f7f8fa"></i><i style="left:473.64px;top:816.20px;background:#f7f8fa"></i><i style="left:503.48px;top:816.20px;background:#f7f8fa"></i><i style="left:533.33px;top:816.20px;background:#f7f8fa"></i><i style="left:563.17px;top:816.20px;background:#f7f8fa"></i><i style="left:593.01px;top:816.20px;background:#f7f8fa"></i><i style="left:622.85px;top:816.20px;background:#f7f8fa"></i><i style="left:652.69px;top:816.20px;background:#f7f8fa"></i><i style="left:682.53px;top:816.20px;background:#f7f8fa"></i><i style="left:712.38px;top:816.20px;background:#f7f8fa"></i><i style="left:742.22px;top:816.20px;background:#f7f8fa"></i><i style="left:772.06px;top:816.20px;background:#f7f8fa"></i><i style="left:801.90px;top:816.20px;background:#d8d6f1"></i><i style="left:831.74px;top:816.20px;background:#f7f8fa"></i><i style="left:861.58px;top:816.20px;background:#f7f8fa"></i><i style="left:891.42px;top:816.20px;background:#c1bdec"></i><i style="left:921.27px;top:816.20px;background:#f7f8fa"></i><i style="left:951.11px;top:816.20px;background:#f7f8fa"></i><i style="left:980.95px;top:816.20px;background:#f7f8fa"></i><i style="left:1010.79px;top:816.20px;background:#f7f8fa"></i><i style="left:1040.63px;top:816.20px;background:#6f65db"></i><i style="left:1070.47px;top:816.20px;background:#f7f8fa"></i><i style="left:1100.32px;top:816.20px;background:#f7f8fa"></i><i style="left:1130.16px;top:816.20px;background:#f7f8fa"></i><i style="left:443.80px;top:840.20px;background:#f7f8fa"></i><i style="left:473.64px;top:840.20px;background:#f7f8fa"></i><i style="left:503.48px;top:840.20px;background:#f7f8fa"></i><i style="left:533.33px;top:840.20px;background:#f7f8fa"></i><i style="left:563.17px;top:840.20px;background:#f7f8fa"></i><i style="left:593.01px;top:840.20px;background:#f7f8fa"></i><i style="left:622.85px;top:840.20px;background:#f7f8fa"></i><i style="left:652.69px;top:840.20px;background:#f7f8fa"></i><i style="left:682.53px;top:840.20px;background:#f7f8fa"></i><i style="left:712.38px;top:840.20px;background:#f7f8fa"></i><i style="left:742.22px;top:840.20px;background:#f7f8fa"></i><i style="left:772.06px;top:840.20px;background:#f7f8fa"></i><i style="left:801.90px;top:840.20px;background:#f7f8fa"></i><i style="left:831.74px;top:840.20px;background:#f7f8fa"></i><i style="left:861.58px;top:840.20px;background:#f7f8fa"></i><i style="left:891.42px;top:840.20px;background:#f7f8fa"></i><i style="left:921.27px;top:840.20px;background:#f7f8fa"></i><i style="left:951.11px;top:840.20px;background:#f7f8fa"></i><i style="left:980.95px;top:840.20px;background:#f7f8fa"></i><i style="left:1010.79px;top:840.20px;background:#f7f8fa"></i><i style="left:1040.63px;top:840.20px;background:#9e98e5"></i><i style="left:1070.47px;top:840.20px;background:#f7f8fa"></i><i style="left:1100.32px;top:840.20px;background:#f7f8fa"></i><i style="left:1130.16px;top:840.20px;background:#f7f8fa"></i><i style="left:443.80px;top:864.20px;background:#f7f8fa"></i><i style="left:473.64px;top:864.20px;background:#b7b2ea"></i><i style="left:503.48px;top:864.20px;background:#eae8f5"></i><i style="left:533.33px;top:864.20px;background:#f7f8fa"></i><i style="left:563.17px;top:864.20px;background:#f7f8fa"></i><i style="left:593.01px;top:864.20px;background:#f7f8fa"></i><i style="left:622.85px;top:864.20px;background:#f7f8fa"></i><i style="left:652.69px;top:864.20px;background:#f7f8fa"></i><i style="left:682.53px;top:864.20px;background:#f7f8fa"></i><i style="left:712.38px;top:864.20px;background:#f7f8fa"></i><i style="left:742.22px;top:864.20px;background:#f7f8fa"></i><i style="left:772.06px;top:864.20px;background:#f7f8fa"></i><i style="left:801.90px;top:864.20px;background:#f7f8fa"></i><i style="left:831.74px;top:864.20px;background:#f7f8fa"></i><i style="left:861.58px;top:864.20px;background:#f7f8fa"></i><i style="left:891.42px;top:864.20px;background:#f7f8fa"></i><i style="left:921.27px;top:864.20px;background:#f7f8fa"></i><i style="left:951.11px;top:864.20px;background:#f7f8fa"></i><i style="left:980.95px;top:864.20px;background:#f7f8fa"></i><i style="left:1010.79px;top:864.20px;background:#f7f8fa"></i><i style="left:1040.63px;top:864.20px;background:#928ae3"></i><i style="left:1070.47px;top:864.20px;background:#f7f8fa"></i><i style="left:1100.32px;top:864.20px;background:#f7f8fa"></i><i style="left:1130.16px;top:864.20px;background:#f7f8fa"></i><i style="left:443.80px;top:888.20px;background:#f7f8fa"></i><i style="left:473.64px;top:888.20px;background:#f7f8fa"></i><i style="left:503.48px;top:888.20px;background:#f7f8fa"></i><i style="left:533.33px;top:888.20px;background:#f7f8fa"></i><i style="left:563.17px;top:888.20px;background:#f7f8fa"></i><i style="left:593.01px;top:888.20px;background:#f7f8fa"></i><i style="left:622.85px;top:888.20px;background:#f7f8fa"></i><i style="left:652.69px;top:888.20px;background:#f7f8fa"></i><i style="left:682.53px;top:888.20px;background:#f7f8fa"></i><i style="left:712.38px;top:888.20px;background:#f7f8fa"></i><i style="left:742.22px;top:888.20px;background:#f7f8fa"></i><i style="left:772.06px;top:888.20px;background:#f7f8fa"></i><i style="left:801.90px;top:888.20px;background:#f7f8fa"></i><i style="left:831.74px;top:888.20px;background:#f7f8fa"></i><i style="left:861.58px;top:888.20px;background:#f7f8fa"></i><i style="left:891.42px;top:888.20px;background:#f7f8fa"></i><i style="left:921.27px;top:888.20px;background:#f7f8fa"></i><i style="left:951.11px;top:888.20px;background:#f7f8fa"></i><i style="left:980.95px;top:888.20px;background:#f7f8fa"></i><i style="left:1010.79px;top:888.20px;background:#f7f8fa"></i><i style="left:1040.63px;top:888.20px;background:#6b61db"></i><i style="left:1070.47px;top:888.20px;background:#f7f8fa"></i><i style="left:1100.32px;top:888.20px;background:#f7f8fa"></i><i style="left:1130.16px;top:888.20px;background:#f7f8fa"></i><i style="left:443.80px;top:912.20px;background:#f7f8fa"></i><i style="left:473.64px;top:912.20px;background:#f7f8fa"></i><i style="left:503.48px;top:912.20px;background:#f7f8fa"></i><i style="left:533.33px;top:912.20px;background:#f7f8fa"></i><i style="left:563.17px;top:912.20px;background:#f7f8fa"></i><i style="left:593.01px;top:912.20px;background:#f7f8fa"></i><i style="left:622.85px;top:912.20px;background:#f7f8fa"></i><i style="left:652.69px;top:912.20px;background:#f7f8fa"></i><i style="left:682.53px;top:912.20px;background:#f7f8fa"></i><i style="left:712.38px;top:912.20px;background:#f7f8fa"></i><i style="left:742.22px;top:912.20px;background:#f7f8fa"></i><i style="left:772.06px;top:912.20px;background:#f7f8fa"></i><i style="left:801.90px;top:912.20px;background:#f7f8fa"></i><i style="left:831.74px;top:912.20px;background:#f7f8fa"></i><i style="left:861.58px;top:912.20px;background:#f7f8fa"></i><i style="left:891.42px;top:912.20px;background:#f7f8fa"></i><i style="left:921.27px;top:912.20px;background:#f7f8fa"></i><i style="left:951.11px;top:912.20px;background:#f7f8fa"></i><i style="left:980.95px;top:912.20px;background:#f7f8fa"></i><i style="left:1010.79px;top:912.20px;background:#f7f8fa"></i><i style="left:1040.63px;top:912.20px;background:#4f43d5"></i><i style="left:1070.47px;top:912.20px;background:#f7f8fa"></i><i style="left:1100.32px;top:912.20px;background:#f7f8fa"></i><i style="left:1130.16px;top:912.20px;background:#f7f8fa"></i><i style="left:801.90px;top:936.20px;background:#f7f8fa"></i><i style="left:831.74px;top:936.20px;background:#f7f8fa"></i><i style="left:861.58px;top:936.20px;background:#f7f8fa"></i><i style="left:891.42px;top:936.20px;background:#f7f8fa"></i><i style="left:921.27px;top:936.20px;background:#f7f8fa"></i><i style="left:951.11px;top:936.20px;background:#f7f8fa"></i><i style="left:980.95px;top:936.20px;background:#f7f8fa"></i><i style="left:1010.79px;top:936.20px;background:#f7f8fa"></i><i style="left:1040.63px;top:936.20px;background:#a099e6"></i><i style="left:1070.47px;top:936.20px;background:#f7f8fa"></i><i style="left:1100.32px;top:936.20px;background:#f7f8fa"></i><i style="left:1130.16px;top:936.20px;background:#f7f8fa"></i></div><div class="card" style="left:339px;top:1086px;width:1284px;height:520px"></div><div class="card" style="left:1639.3px;top:1086px;width:1284.2px;height:520px"></div><div style="position:absolute;left:1552.9px;top:1182.0px;width:1px;height:19px;background:#e1e3e9"></div><div style="position:absolute;left:1577.2px;top:1189.8px;width:3.4px;height:3.4px;border-radius:2px;background:#060a1c"></div><div style="position:absolute;left:1582.8px;top:1189.8px;width:3.4px;height:3.4px;border-radius:2px;background:#060a1c"></div><div style="position:absolute;left:1588.4px;top:1189.8px;width:3.4px;height:3.4px;border-radius:2px;background:#060a1c"></div><div style="position:absolute;left:350.0px;top:1214px;width:1261px;height:1px;background:#e1e3e9"></div><div style="position:absolute;left:1552.9px;top:1230.0px;width:1px;height:19px;background:#e1e3e9"></div><div style="position:absolute;left:1577.2px;top:1237.8px;width:3.4px;height:3.4px;border-radius:2px;background:#060a1c"></div><div style="position:absolute;left:1582.8px;top:1237.8px;width:3.4px;height:3.4px;border-radius:2px;background:#060a1c"></div><div style="position:absolute;left:1588.4px;top:1237.8px;width:3.4px;height:3.4px;border-radius:2px;background:#060a1c"></div><div style="position:absolute;left:350.0px;top:1262px;width:1261px;height:1px;background:#e1e3e9"></div><div style="position:absolute;left:1552.9px;top:1278.0px;width:1px;height:19px;background:#e1e3e9"></div><div style="position:absolute;left:1577.2px;top:1285.8px;width:3.4px;height:3.4px;border-radius:2px;background:#060a1c"></div><div style="position:absolute;left:1582.8px;top:1285.8px;width:3.4px;height:3.4px;border-radius:2px;background:#060a1c"></div><div style="position:absolute;left:1588.4px;top:1285.8px;width:3.4px;height:3.4px;border-radius:2px;background:#060a1c"></div><div style="position:absolute;left:350.0px;top:1310px;width:1261px;height:1px;background:#e1e3e9"></div><div style="position:absolute;left:1552.9px;top:1326.0px;width:1px;height:19px;background:#e1e3e9"></div><div style="position:absolute;left:1577.2px;top:1333.8px;width:3.4px;height:3.4px;border-radius:2px;background:#060a1c"></div><div style="position:absolute;left:1582.8px;top:1333.8px;width:3.4px;height:3.4px;border-radius:2px;background:#060a1c"></div><div style="position:absolute;left:1588.4px;top:1333.8px;width:3.4px;height:3.4px;border-radius:2px;background:#060a1c"></div><div style="position:absolute;left:350.0px;top:1358px;width:1261px;height:1px;background:#e1e3e9"></div><div style="position:absolute;left:1552.9px;top:1374.0px;width:1px;height:19px;background:#e1e3e9"></div><div style="position:absolute;left:1577.2px;top:1381.8px;width:3.4px;height:3.4px;border-radius:2px;background:#060a1c"></div><div style="position:absolute;left:1582.8px;top:1381.8px;width:3.4px;height:3.4px;border-radius:2px;background:#060a1c"></div><div style="position:absolute;left:1588.4px;top:1381.8px;width:3.4px;height:3.4px;border-radius:2px;background:#060a1c"></div><div style="position:absolute;left:350.0px;top:1406px;width:1261px;height:1px;background:#e1e3e9"></div><div style="position:absolute;left:1552.9px;top:1422.0px;width:1px;height:19px;background:#e1e3e9"></div><div style="position:absolute;left:1577.2px;top:1429.8px;width:3.4px;height:3.4px;border-radius:2px;background:#060a1c"></div><div style="position:absolute;left:1582.8px;top:1429.8px;width:3.4px;height:3.4px;border-radius:2px;background:#060a1c"></div><div style="position:absolute;left:1588.4px;top:1429.8px;width:3.4px;height:3.4px;border-radius:2px;background:#060a1c"></div><div style="position:absolute;left:350.0px;top:1454px;width:1261px;height:1px;background:#e1e3e9"></div><div style="position:absolute;left:1552.9px;top:1470.0px;width:1px;height:19px;background:#e1e3e9"></div><div style="position:absolute;left:1577.2px;top:1477.8px;width:3.4px;height:3.4px;border-radius:2px;background:#060a1c"></div><div style="position:absolute;left:1582.8px;top:1477.8px;width:3.4px;height:3.4px;border-radius:2px;background:#060a1c"></div><div style="position:absolute;left:1588.4px;top:1477.8px;width:3.4px;height:3.4px;border-radius:2px;background:#060a1c"></div><div style="position:absolute;left:350.0px;top:1502px;width:1261px;height:1px;background:#e1e3e9"></div><div style="position:absolute;left:1552.9px;top:1518.0px;width:1px;height:19px;background:#e1e3e9"></div><div style="position:absolute;left:1577.2px;top:1525.8px;width:3.4px;height:3.4px;border-radius:2px;background:#060a1c"></div><div style="position:absolute;left:1582.8px;top:1525.8px;width:3.4px;height:3.4px;border-radius:2px;background:#060a1c"></div><div style="position:absolute;left:1588.4px;top:1525.8px;width:3.4px;height:3.4px;border-radius:2px;background:#060a1c"></div><div class="btn" style="left:1424.4px;top:1109px;width:170.5px;height:42px"></div><svg style="position:absolute;left:1433.4px;top:1119.5px" width="24" height="22" viewBox="0 0 24 22" fill="none" stroke="#060a1c" stroke-width="1.75" stroke-linecap="butt">
<path d="M2.600 5.700H13.500M2.600 10.400H9.900M2.600 15.300H7.400"/><path d="M18.200 3.800V15.800M15.300 12.900L18.200 16L21.100 12.900" stroke-width="1.650" stroke-linejoin="miter"/></svg><svg style="position:absolute;left:1566.4px;top:1124.4px" width="16" height="12" viewBox="0 0 16 12" fill="none" stroke="#060a1c" stroke-width="2"><path d="M3 3.2L8 8.2L13 3.2"/></svg><div style="position:absolute;left:2853.4px;top:1182.0px;width:1px;height:19px;background:#e1e3e9"></div><div style="position:absolute;left:2877.7px;top:1189.8px;width:3.4px;height:3.4px;border-radius:2px;background:#060a1c"></div><div style="position:absolute;left:2883.3px;top:1189.8px;width:3.4px;height:3.4px;border-radius:2px;background:#060a1c"></div><div style="position:absolute;left:2888.9px;top:1189.8px;width:3.4px;height:3.4px;border-radius:2px;background:#060a1c"></div><div style="position:absolute;left:1650.9px;top:1214px;width:1261px;height:1px;background:#e1e3e9"></div><div style="position:absolute;left:2853.4px;top:1230.0px;width:1px;height:19px;background:#e1e3e9"></div><div style="position:absolute;left:2877.7px;top:1237.8px;width:3.4px;height:3.4px;border-radius:2px;background:#060a1c"></div><div style="position:absolute;left:2883.3px;top:1237.8px;width:3.4px;height:3.4px;border-radius:2px;background:#060a1c"></div><div style="position:absolute;left:2888.9px;top:1237.8px;width:3.4px;height:3.4px;border-radius:2px;background:#060a1c"></div><div style="position:absolute;left:1650.9px;top:1262px;width:1261px;height:1px;background:#e1e3e9"></div><div style="position:absolute;left:2853.4px;top:1278.0px;width:1px;height:19px;background:#e1e3e9"></div><div style="position:absolute;left:2877.7px;top:1285.8px;width:3.4px;height:3.4px;border-radius:2px;background:#060a1c"></div><div style="position:absolute;left:2883.3px;top:1285.8px;width:3.4px;height:3.4px;border-radius:2px;background:#060a1c"></div><div style="position:absolute;left:2888.9px;top:1285.8px;width:3.4px;height:3.4px;border-radius:2px;background:#060a1c"></div><div style="position:absolute;left:1650.9px;top:1310px;width:1261px;height:1px;background:#e1e3e9"></div><div style="position:absolute;left:2853.4px;top:1326.0px;width:1px;height:19px;background:#e1e3e9"></div><div style="position:absolute;left:2877.7px;top:1333.8px;width:3.4px;height:3.4px;border-radius:2px;background:#060a1c"></div><div style="position:absolute;left:2883.3px;top:1333.8px;width:3.4px;height:3.4px;border-radius:2px;background:#060a1c"></div><div style="position:absolute;left:2888.9px;top:1333.8px;width:3.4px;height:3.4px;border-radius:2px;background:#060a1c"></div><div style="position:absolute;left:1650.9px;top:1358px;width:1261px;height:1px;background:#e1e3e9"></div><div style="position:absolute;left:2853.4px;top:1374.0px;width:1px;height:19px;background:#e1e3e9"></div><div style="position:absolute;left:2877.7px;top:1381.8px;width:3.4px;height:3.4px;border-radius:2px;background:#060a1c"></div><div style="position:absolute;left:2883.3px;top:1381.8px;width:3.4px;height:3.4px;border-radius:2px;background:#060a1c"></div><div style="position:absolute;left:2888.9px;top:1381.8px;width:3.4px;height:3.4px;border-radius:2px;background:#060a1c"></div><div style="position:absolute;left:1650.9px;top:1406px;width:1261px;height:1px;background:#e1e3e9"></div><div style="position:absolute;left:2853.4px;top:1422.0px;width:1px;height:19px;background:#e1e3e9"></div><div style="position:absolute;left:2877.7px;top:1429.8px;width:3.4px;height:3.4px;border-radius:2px;background:#060a1c"></div><div style="position:absolute;left:2883.3px;top:1429.8px;width:3.4px;height:3.4px;border-radius:2px;background:#060a1c"></div><div style="position:absolute;left:2888.9px;top:1429.8px;width:3.4px;height:3.4px;border-radius:2px;background:#060a1c"></div><div style="position:absolute;left:1650.9px;top:1454px;width:1261px;height:1px;background:#e1e3e9"></div><div style="position:absolute;left:2853.4px;top:1470.0px;width:1px;height:19px;background:#e1e3e9"></div><div style="position:absolute;left:2877.7px;top:1477.8px;width:3.4px;height:3.4px;border-radius:2px;background:#060a1c"></div><div style="position:absolute;left:2883.3px;top:1477.8px;width:3.4px;height:3.4px;border-radius:2px;background:#060a1c"></div><div style="position:absolute;left:2888.9px;top:1477.8px;width:3.4px;height:3.4px;border-radius:2px;background:#060a1c"></div><div style="position:absolute;left:1650.9px;top:1502px;width:1261px;height:1px;background:#e1e3e9"></div><div style="position:absolute;left:2853.4px;top:1518.0px;width:1px;height:19px;background:#e1e3e9"></div><div style="position:absolute;left:2877.7px;top:1525.8px;width:3.4px;height:3.4px;border-radius:2px;background:#060a1c"></div><div style="position:absolute;left:2883.3px;top:1525.8px;width:3.4px;height:3.4px;border-radius:2px;background:#060a1c"></div><div style="position:absolute;left:2888.9px;top:1525.8px;width:3.4px;height:3.4px;border-radius:2px;background:#060a1c"></div><div class="btn" style="left:2724.9px;top:1109px;width:170.5px;height:42px"></div><svg style="position:absolute;left:2733.9px;top:1119.5px" width="24" height="22" viewBox="0 0 24 22" fill="none" stroke="#060a1c" stroke-width="1.75" stroke-linecap="butt">
<path d="M2.600 5.700H13.500M2.600 10.400H9.900M2.600 15.300H7.400"/><path d="M18.200 3.800V15.800M15.300 12.900L18.200 16L21.100 12.900" stroke-width="1.650" stroke-linejoin="miter"/></svg><svg style="position:absolute;left:2866.9px;top:1124.4px" width="16" height="12" viewBox="0 0 16 12" fill="none" stroke="#060a1c" stroke-width="2"><path d="M3 3.2L8 8.2L13 3.2"/></svg>
<span class="t" style="font-size:18.4px;color:#060a1c;top:179.00px;left:60.34px;letter-spacing:0.807px;-webkit-text-stroke:0.12px #060a1c;">Home</span><span class="t" style="font-size:18.4px;color:#060a1c;top:235.00px;left:61.14px;letter-spacing:0.590px;-webkit-text-stroke:0.12px #060a1c;">Timeline</span><span class="t" style="font-size:18.4px;color:#060a1c;top:283.00px;left:60.34px;letter-spacing:0.456px;-webkit-text-stroke:0.12px #060a1c;">Runs</span><span class="t" style="font-size:18.4px;color:#060a1c;top:339.00px;left:60.34px;letter-spacing:1.042px;-webkit-text-stroke:0.12px #060a1c;">Catalog</span><span class="t" style="font-size:18.4px;color:#060a1c;top:387.00px;left:61.78px;letter-spacing:1.148px;-webkit-text-stroke:0.12px #060a1c;">Jobs</span><span class="t" style="font-size:18.4px;color:#060a1c;top:435.00px;left:61.14px;letter-spacing:0.868px;-webkit-text-stroke:0.12px #060a1c;">Automation</span><span class="t" style="font-size:18.4px;color:#060a1c;top:491.00px;left:60.34px;letter-spacing:0.713px;-webkit-text-stroke:0.12px #060a1c;">Lineage</span><span class="t" style="font-size:18.4px;color:#060a1c;top:539.00px;left:60.34px;letter-spacing:0.702px;-webkit-text-stroke:0.12px #060a1c;">Insights</span><span class="t" style="font-size:18.4px;color:#060a1c;top:587.00px;left:60.34px;letter-spacing:0.796px;-webkit-text-stroke:0.12px #060a1c;">Deployment</span><span class="t" style="font-size:18.4px;color:#060a1c;top:1326.00px;left:60.34px;letter-spacing:0.693px;-webkit-text-stroke:0.12px #060a1c;">Search</span><span class="t" style="font-size:18.4px;color:#060a1c;top:1383.00px;left:61.14px;letter-spacing:0.881px;-webkit-text-stroke:0.12px #060a1c;">Admin</span><span class="t" style="font-size:18.4px;color:#060a1c;top:1431.00px;left:60.34px;letter-spacing:1.087px;-webkit-text-stroke:0.12px #060a1c;">Support</span><span class="t" style="font-size:18.4px;color:#060a1c;top:1489.00px;left:66.78px;letter-spacing:0.244px;-webkit-text-stroke:0.12px #060a1c;">Gavin</span><span class="t" style="font-size:18.4px;color:#060a1c;top:111.00px;left:61.14px;letter-spacing:0.941px;-webkit-text-stroke:0.12px #060a1c;">data-eng-prod</span><span class="t" style="font-size:36.5px;color:#060a1c;top:27.00px;left:68.33px;letter-spacing:-0.936px;">dagster</span><span class="t" style="font-size:26.67px;color:#060a1c;top:9.00px;left:337.94px;letter-spacing:1.066px;-webkit-text-stroke:0.7px #060a1c;">Hourly breakdown</span><span class="t" style="font-size:26.67px;color:#060a1c;top:1042.00px;left:339.44px;letter-spacing:1.074px;-webkit-text-stroke:0.7px #060a1c;">Asset breakdown</span><span class="t" style="font-size:20px;color:#060a1c;top:96.00px;left:371.24px;letter-spacing:1.126px;-webkit-text-stroke:0.15px #060a1c;">Materializations by hour</span><span class="t" style="font-size:15.8px;color:#3f4763;top:138.00px;left:371.31px;letter-spacing:-0.068px;-webkit-text-stroke:0.18px #3f4763;">Sep 12</span><span class="t" style="font-size:15.8px;color:#3f4763;top:162.00px;left:371.31px;letter-spacing:-0.634px;-webkit-text-stroke:0.18px #3f4763;">Sep 11</span><span class="t" style="font-size:15.8px;color:#3f4763;top:186.00px;left:371.31px;letter-spacing:0.148px;-webkit-text-stroke:0.18px #3f4763;">Sep 10</span><span class="t" style="font-size:15.8px;color:#3f4763;top:210.00px;left:371.31px;letter-spacing:0.495px;-webkit-text-stroke:0.18px #3f4763;">Sep 9</span><span class="t" style="font-size:15.8px;color:#3f4763;top:234.00px;left:371.31px;letter-spacing:0.495px;-webkit-text-stroke:0.18px #3f4763;">Sep 8</span><span class="t" style="font-size:15.8px;color:#3f4763;top:258.00px;left:371.31px;letter-spacing:0.335px;-webkit-text-stroke:0.18px #3f4763;">Sep 7</span><span class="t" style="font-size:15.8px;color:#3f4763;top:282.00px;left:371.31px;letter-spacing:0.495px;-webkit-text-stroke:0.18px #3f4763;">Sep 6</span><span class="t" style="font-size:15.8px;color:#3f4763;top:306.00px;left:371.31px;letter-spacing:0.495px;-webkit-text-stroke:0.18px #3f4763;">Sep 5</span><span class="t" style="font-size:15.8px;color:#3f4763;top:330.00px;left:442.85px;letter-spacing:0.212px;-webkit-text-stroke:0.18px #3f4763;">12AM</span><span class="t" style="font-size:15.8px;color:#3f4763;top:330.00px;left:614.31px;letter-spacing:1.797px;-webkit-text-stroke:0.18px #3f4763;">6AM</span><span class="t" style="font-size:15.8px;color:#3f4763;top:330.00px;left:779.21px;letter-spacing:0.299px;-webkit-text-stroke:0.18px #3f4763;">12PM</span><span class="t" style="font-size:15.8px;color:#3f4763;top:330.00px;left:950.67px;letter-spacing:1.527px;-webkit-text-stroke:0.18px #3f4763;">6PM</span><span class="t" style="font-size:15.8px;color:#3f4763;top:330.00px;left:1114.95px;letter-spacing:0.239px;-webkit-text-stroke:0.18px #3f4763;">12AM</span><span class="t" style="font-size:20px;color:#060a1c;top:96.00px;left:1238.24px;letter-spacing:0.950px;-webkit-text-stroke:0.15px #060a1c;">Failures by hour</span><span class="t" style="font-size:15.8px;color:#3f4763;top:138.00px;left:1238.31px;letter-spacing:-0.068px;-webkit-text-stroke:0.18px #3f4763;">Sep 12</span><span class="t" style="font-size:15.8px;color:#3f4763;top:162.00px;left:1238.31px;letter-spacing:-0.634px;-webkit-text-stroke:0.18px #3f4763;">Sep 11</span><span class="t" style="font-size:15.8px;color:#3f4763;top:186.00px;left:1238.31px;letter-spacing:0.148px;-webkit-text-stroke:0.18px #3f4763;">Sep 10</span><span class="t" style="font-size:15.8px;color:#3f4763;top:210.00px;left:1238.31px;letter-spacing:0.495px;-webkit-text-stroke:0.18px #3f4763;">Sep 9</span><span class="t" style="font-size:15.8px;color:#3f4763;top:234.00px;left:1238.31px;letter-spacing:0.495px;-webkit-text-stroke:0.18px #3f4763;">Sep 8</span><span class="t" style="font-size:15.8px;color:#3f4763;top:258.00px;left:1238.31px;letter-spacing:0.335px;-webkit-text-stroke:0.18px #3f4763;">Sep 7</span><span class="t" style="font-size:15.8px;color:#3f4763;top:282.00px;left:1238.31px;letter-spacing:0.495px;-webkit-text-stroke:0.18px #3f4763;">Sep 6</span><span class="t" style="font-size:15.8px;color:#3f4763;top:306.00px;left:1238.31px;letter-spacing:0.495px;-webkit-text-stroke:0.18px #3f4763;">Sep 5</span><span class="t" style="font-size:15.8px;color:#3f4763;top:330.00px;left:1309.85px;letter-spacing:0.212px;-webkit-text-stroke:0.18px #3f4763;">12AM</span><span class="t" style="font-size:15.8px;color:#3f4763;top:330.00px;left:1481.31px;letter-spacing:1.797px;-webkit-text-stroke:0.18px #3f4763;">6AM</span><span class="t" style="font-size:15.8px;color:#3f4763;top:330.00px;left:1646.21px;letter-spacing:0.299px;-webkit-text-stroke:0.18px #3f4763;">12PM</span><span class="t" style="font-size:15.8px;color:#3f4763;top:330.00px;left:1817.67px;letter-spacing:1.527px;-webkit-text-stroke:0.18px #3f4763;">6PM</span><span class="t" style="font-size:15.8px;color:#3f4763;top:330.00px;left:1981.95px;letter-spacing:0.239px;-webkit-text-stroke:0.18px #3f4763;">12AM</span><span class="t" style="font-size:20px;color:#060a1c;top:96.00px;left:2105.94px;letter-spacing:0.996px;-webkit-text-stroke:0.15px #060a1c;">Avg execution time by hour</span><span class="t" style="font-size:15.8px;color:#3f4763;top:138.00px;left:2105.21px;letter-spacing:-0.068px;-webkit-text-stroke:0.18px #3f4763;">Sep 12</span><span class="t" style="font-size:15.8px;color:#3f4763;top:162.00px;left:2105.21px;letter-spacing:-0.634px;-webkit-text-stroke:0.18px #3f4763;">Sep 11</span><span class="t" style="font-size:15.8px;color:#3f4763;top:186.00px;left:2105.21px;letter-spacing:-0.012px;-webkit-text-stroke:0.18px #3f4763;">Sep 10</span><span class="t" style="font-size:15.8px;color:#3f4763;top:210.00px;left:2105.21px;letter-spacing:0.495px;-webkit-text-stroke:0.18px #3f4763;">Sep 9</span><span class="t" style="font-size:15.8px;color:#3f4763;top:234.00px;left:2105.21px;letter-spacing:0.295px;-webkit-text-stroke:0.18px #3f4763;">Sep 8</span><span class="t" style="font-size:15.8px;color:#3f4763;top:258.00px;left:2105.21px;letter-spacing:0.135px;-webkit-text-stroke:0.18px #3f4763;">Sep 7</span><span class="t" style="font-size:15.8px;color:#3f4763;top:282.00px;left:2105.21px;letter-spacing:0.295px;-webkit-text-stroke:0.18px #3f4763;">Sep 6</span><span class="t" style="font-size:15.8px;color:#3f4763;top:306.00px;left:2105.21px;letter-spacing:0.295px;-webkit-text-stroke:0.18px #3f4763;">Sep 5</span><span class="t" style="font-size:15.8px;color:#3f4763;top:330.00px;left:2175.95px;letter-spacing:0.479px;-webkit-text-stroke:0.18px #3f4763;">12AM</span><span class="t" style="font-size:15.8px;color:#3f4763;top:330.00px;left:2348.21px;letter-spacing:1.397px;-webkit-text-stroke:0.18px #3f4763;">6AM</span><span class="t" style="font-size:15.8px;color:#3f4763;top:330.00px;left:2512.31px;letter-spacing:0.299px;-webkit-text-stroke:0.18px #3f4763;">12PM</span><span class="t" style="font-size:15.8px;color:#3f4763;top:330.00px;left:2684.57px;letter-spacing:1.127px;-webkit-text-stroke:0.18px #3f4763;">6PM</span><span class="t" style="font-size:15.8px;color:#3f4763;top:330.00px;left:2848.85px;letter-spacing:0.239px;-webkit-text-stroke:0.18px #3f4763;">12AM</span><span class="t" style="font-size:20px;color:#060a1c;top:412.00px;left:371.24px;letter-spacing:1.002px;-webkit-text-stroke:0.15px #060a1c;">Retries by hour</span><span class="t" style="font-size:15.8px;color:#3f4763;top:454.00px;left:371.31px;letter-spacing:-0.068px;-webkit-text-stroke:0.18px #3f4763;">Sep 12</span><span class="t" style="font-size:15.8px;color:#3f4763;top:478.00px;left:371.31px;letter-spacing:-0.634px;-webkit-text-stroke:0.18px #3f4763;">Sep 11</span><span class="t" style="font-size:15.8px;color:#3f4763;top:502.00px;left:371.31px;letter-spacing:0.148px;-webkit-text-stroke:0.18px #3f4763;">Sep 10</span><span class="t" style="font-size:15.8px;color:#3f4763;top:526.00px;left:371.31px;letter-spacing:0.495px;-webkit-text-stroke:0.18px #3f4763;">Sep 9</span><span class="t" style="font-size:15.8px;color:#3f4763;top:550.00px;left:371.31px;letter-spacing:0.495px;-webkit-text-stroke:0.18px #3f4763;">Sep 8</span><span class="t" style="font-size:15.8px;color:#3f4763;top:574.00px;left:371.31px;letter-spacing:0.335px;-webkit-text-stroke:0.18px #3f4763;">Sep 7</span><span class="t" style="font-size:15.8px;color:#3f4763;top:598.00px;left:371.31px;letter-spacing:0.495px;-webkit-text-stroke:0.18px #3f4763;">Sep 6</span><span class="t" style="font-size:15.8px;color:#3f4763;top:622.00px;left:371.31px;letter-spacing:0.495px;-webkit-text-stroke:0.18px #3f4763;">Sep 5</span><span class="t" style="font-size:15.8px;color:#3f4763;top:647.00px;left:442.85px;letter-spacing:0.212px;-webkit-text-stroke:0.18px #3f4763;">12AM</span><span class="t" style="font-size:15.8px;color:#3f4763;top:647.00px;left:614.31px;letter-spacing:1.797px;-webkit-text-stroke:0.18px #3f4763;">6AM</span><span class="t" style="font-size:15.8px;color:#3f4763;top:647.00px;left:779.21px;letter-spacing:0.299px;-webkit-text-stroke:0.18px #3f4763;">12PM</span><span class="t" style="font-size:15.8px;color:#3f4763;top:647.00px;left:950.67px;letter-spacing:1.527px;-webkit-text-stroke:0.18px #3f4763;">6PM</span><span class="t" style="font-size:15.8px;color:#3f4763;top:647.00px;left:1114.95px;letter-spacing:0.239px;-webkit-text-stroke:0.18px #3f4763;">12AM</span><span class="t" style="font-size:20px;color:#060a1c;top:412.00px;left:1239.04px;letter-spacing:0.949px;-webkit-text-stroke:0.15px #060a1c;">Check errors by hour</span><span class="t" style="font-size:15.8px;color:#3f4763;top:454.00px;left:1238.31px;letter-spacing:-0.068px;-webkit-text-stroke:0.18px #3f4763;">Sep 12</span><span class="t" style="font-size:15.8px;color:#3f4763;top:478.00px;left:1238.31px;letter-spacing:-0.634px;-webkit-text-stroke:0.18px #3f4763;">Sep 11</span><span class="t" style="font-size:15.8px;color:#3f4763;top:502.00px;left:1238.31px;letter-spacing:0.148px;-webkit-text-stroke:0.18px #3f4763;">Sep 10</span><span class="t" style="font-size:15.8px;color:#3f4763;top:526.00px;left:1238.31px;letter-spacing:0.495px;-webkit-text-stroke:0.18px #3f4763;">Sep 9</span><span class="t" style="font-size:15.8px;color:#3f4763;top:550.00px;left:1238.31px;letter-spacing:0.495px;-webkit-text-stroke:0.18px #3f4763;">Sep 8</span><span class="t" style="font-size:15.8px;color:#3f4763;top:574.00px;left:1238.31px;letter-spacing:0.335px;-webkit-text-stroke:0.18px #3f4763;">Sep 7</span><span class="t" style="font-size:15.8px;color:#3f4763;top:598.00px;left:1238.31px;letter-spacing:0.495px;-webkit-text-stroke:0.18px #3f4763;">Sep 6</span><span class="t" style="font-size:15.8px;color:#3f4763;top:622.00px;left:1238.31px;letter-spacing:0.495px;-webkit-text-stroke:0.18px #3f4763;">Sep 5</span><span class="t" style="font-size:15.8px;color:#3f4763;top:647.00px;left:1309.85px;letter-spacing:0.212px;-webkit-text-stroke:0.18px #3f4763;">12AM</span><span class="t" style="font-size:15.8px;color:#3f4763;top:647.00px;left:1481.31px;letter-spacing:1.797px;-webkit-text-stroke:0.18px #3f4763;">6AM</span><span class="t" style="font-size:15.8px;color:#3f4763;top:647.00px;left:1646.21px;letter-spacing:0.299px;-webkit-text-stroke:0.18px #3f4763;">12PM</span><span class="t" style="font-size:15.8px;color:#3f4763;top:647.00px;left:1817.67px;letter-spacing:1.527px;-webkit-text-stroke:0.18px #3f4763;">6PM</span><span class="t" style="font-size:15.8px;color:#3f4763;top:647.00px;left:1981.95px;letter-spacing:0.239px;-webkit-text-stroke:0.18px #3f4763;">12AM</span><span class="t" style="font-size:20px;color:#060a1c;top:412.00px;left:2105.14px;letter-spacing:1.073px;-webkit-text-stroke:0.15px #060a1c;">Row count by hour</span><span class="t" style="font-size:15.8px;color:#3f4763;top:454.00px;left:2105.21px;letter-spacing:-0.068px;-webkit-text-stroke:0.18px #3f4763;">Sep 12</span><span class="t" style="font-size:15.8px;color:#3f4763;top:478.00px;left:2105.21px;letter-spacing:-0.634px;-webkit-text-stroke:0.18px #3f4763;">Sep 11</span><span class="t" style="font-size:15.8px;color:#3f4763;top:502.00px;left:2105.21px;letter-spacing:-0.012px;-webkit-text-stroke:0.18px #3f4763;">Sep 10</span><span class="t" style="font-size:15.8px;color:#3f4763;top:526.00px;left:2105.21px;letter-spacing:0.495px;-webkit-text-stroke:0.18px #3f4763;">Sep 9</span><span class="t" style="font-size:15.8px;color:#3f4763;top:550.00px;left:2105.21px;letter-spacing:0.295px;-webkit-text-stroke:0.18px #3f4763;">Sep 8</span><span class="t" style="font-size:15.8px;color:#3f4763;top:574.00px;left:2105.21px;letter-spacing:0.135px;-webkit-text-stroke:0.18px #3f4763;">Sep 7</span><span class="t" style="font-size:15.8px;color:#3f4763;top:598.00px;left:2105.21px;letter-spacing:0.295px;-webkit-text-stroke:0.18px #3f4763;">Sep 6</span><span class="t" style="font-size:15.8px;color:#3f4763;top:622.00px;left:2105.21px;letter-spacing:0.295px;-webkit-text-stroke:0.18px #3f4763;">Sep 5</span><span class="t" style="font-size:15.8px;color:#3f4763;top:647.00px;left:2175.95px;letter-spacing:0.479px;-webkit-text-stroke:0.18px #3f4763;">12AM</span><span class="t" style="font-size:15.8px;color:#3f4763;top:647.00px;left:2348.21px;letter-spacing:1.397px;-webkit-text-stroke:0.18px #3f4763;">6AM</span><span class="t" style="font-size:15.8px;color:#3f4763;top:647.00px;left:2512.31px;letter-spacing:0.299px;-webkit-text-stroke:0.18px #3f4763;">12PM</span><span class="t" style="font-size:15.8px;color:#3f4763;top:647.00px;left:2684.57px;letter-spacing:1.127px;-webkit-text-stroke:0.18px #3f4763;">6PM</span><span class="t" style="font-size:15.8px;color:#3f4763;top:647.00px;left:2848.85px;letter-spacing:0.239px;-webkit-text-stroke:0.18px #3f4763;">12AM</span><span class="t" style="font-size:20px;color:#060a1c;top:729.00px;left:372.04px;letter-spacing:1.012px;-webkit-text-stroke:0.15px #060a1c;">dbt execution duration by hour</span><span class="t" style="font-size:15.8px;color:#3f4763;top:771.00px;left:371.31px;letter-spacing:-0.068px;-webkit-text-stroke:0.18px #3f4763;">Sep 12</span><span class="t" style="font-size:15.8px;color:#3f4763;top:795.00px;left:371.31px;letter-spacing:-0.634px;-webkit-text-stroke:0.18px #3f4763;">Sep 11</span><span class="t" style="font-size:15.8px;color:#3f4763;top:819.00px;left:371.31px;letter-spacing:0.148px;-webkit-text-stroke:0.18px #3f4763;">Sep 10</span><span class="t" style="font-size:15.8px;color:#3f4763;top:843.00px;left:371.31px;letter-spacing:0.495px;-webkit-text-stroke:0.18px #3f4763;">Sep 9</span><span class="t" style="font-size:15.8px;color:#3f4763;top:867.00px;left:371.31px;letter-spacing:0.495px;-webkit-text-stroke:0.18px #3f4763;">Sep 8</span><span class="t" style="font-size:15.8px;color:#3f4763;top:891.00px;left:371.31px;letter-spacing:0.335px;-webkit-text-stroke:0.18px #3f4763;">Sep 7</span><span class="t" style="font-size:15.8px;color:#3f4763;top:915.00px;left:371.31px;letter-spacing:0.495px;-webkit-text-stroke:0.18px #3f4763;">Sep 6</span><span class="t" style="font-size:15.8px;color:#3f4763;top:939.00px;left:371.31px;letter-spacing:0.495px;-webkit-text-stroke:0.18px #3f4763;">Sep 5</span><span class="t" style="font-size:15.8px;color:#3f4763;top:963.00px;left:442.85px;letter-spacing:0.212px;-webkit-text-stroke:0.18px #3f4763;">12AM</span><span class="t" style="font-size:15.8px;color:#3f4763;top:963.00px;left:614.31px;letter-spacing:1.797px;-webkit-text-stroke:0.18px #3f4763;">6AM</span><span class="t" style="font-size:15.8px;color:#3f4763;top:963.00px;left:779.21px;letter-spacing:0.299px;-webkit-text-stroke:0.18px #3f4763;">12PM</span><span class="t" style="font-size:15.8px;color:#3f4763;top:963.00px;left:950.67px;letter-spacing:1.527px;-webkit-text-stroke:0.18px #3f4763;">6PM</span><span class="t" style="font-size:15.8px;color:#3f4763;top:963.00px;left:1114.95px;letter-spacing:0.239px;-webkit-text-stroke:0.18px #3f4763;">12AM</span><span class="t" style="font-size:20px;color:#060a1c;top:1120.00px;left:365.86px;letter-spacing:1.122px;-webkit-text-stroke:0.15px #060a1c;">Top assets by materialization count</span><span class="t" style="font-size:20px;color:#060a1c;top:1120.00px;left:1665.86px;letter-spacing:1.122px;-webkit-text-stroke:0.15px #060a1c;">Top assets by failure count</span><span class="t" style="font-size:16px;color:#060a1c;top:1184.00px;left:369.20px;letter-spacing:0.132px;-webkit-text-stroke:0.12px #060a1c;">1. RAW_DATA / orders</span><span class="t" style="font-size:16px;color:#060a1c;top:1184.00px;right:1396.92px;letter-spacing:1.000px;-webkit-text-stroke:0.12px #060a1c;">843</span><span class="t" style="font-size:16px;color:#060a1c;top:1232.00px;left:369.20px;letter-spacing:0.505px;-webkit-text-stroke:0.12px #060a1c;">2. replication / customers / customers</span><span class="t" style="font-size:16px;color:#060a1c;top:1232.00px;right:1396.92px;letter-spacing:1.000px;-webkit-text-stroke:0.12px #060a1c;">336</span><span class="t" style="font-size:16px;color:#060a1c;top:1280.00px;left:369.20px;letter-spacing:0.459px;-webkit-text-stroke:0.12px #060a1c;">3. replication / inventory / warehouses</span><span class="t" style="font-size:16px;color:#060a1c;top:1280.00px;right:1396.92px;letter-spacing:1.000px;-webkit-text-stroke:0.12px #060a1c;">336</span><span class="t" style="font-size:16px;color:#060a1c;top:1328.00px;left:370.00px;letter-spacing:0.470px;-webkit-text-stroke:0.12px #060a1c;">4. replication / customers / orders</span><span class="t" style="font-size:16px;color:#060a1c;top:1328.00px;right:1396.92px;letter-spacing:1.000px;-webkit-text-stroke:0.12px #060a1c;">336</span><span class="t" style="font-size:16px;color:#060a1c;top:1376.00px;left:369.20px;letter-spacing:0.513px;-webkit-text-stroke:0.12px #060a1c;">5. replication / customers / payments</span><span class="t" style="font-size:16px;color:#060a1c;top:1376.00px;right:1396.92px;letter-spacing:1.000px;-webkit-text-stroke:0.12px #060a1c;">336</span><span class="t" style="font-size:16px;color:#060a1c;top:1424.00px;left:369.20px;letter-spacing:0.461px;-webkit-text-stroke:0.12px #060a1c;">6. mwaa_hooli_airflow_01 / dag / replicate_postgres_customers</span><span class="t" style="font-size:16px;color:#060a1c;top:1424.00px;right:1396.92px;letter-spacing:1.000px;-webkit-text-stroke:0.12px #060a1c;">336</span><span class="t" style="font-size:16px;color:#060a1c;top:1472.00px;left:369.20px;letter-spacing:0.485px;-webkit-text-stroke:0.12px #060a1c;">7. replication / inventory / inventory_items</span><span class="t" style="font-size:16px;color:#060a1c;top:1472.00px;right:1396.92px;letter-spacing:1.000px;-webkit-text-stroke:0.12px #060a1c;">336</span><span class="t" style="font-size:16px;color:#060a1c;top:1520.00px;left:369.20px;letter-spacing:0.459px;-webkit-text-stroke:0.12px #060a1c;">8. mwaa_hooli_airflow_01 / dag / replicate_postgres_inventory</span><span class="t" style="font-size:16px;color:#060a1c;top:1520.00px;right:1396.92px;letter-spacing:1.000px;-webkit-text-stroke:0.12px #060a1c;">336</span><span class="t" style="font-size:18.4px;color:#060a1c;top:1121.00px;left:1461.06px;letter-spacing:0.424px;-webkit-text-stroke:0.12px #060a1c;">High to low</span><span class="t" style="font-size:16px;color:#060a1c;top:1184.00px;left:1669.30px;letter-spacing:0.165px;-webkit-text-stroke:0.12px #060a1c;">1. RAW_DATA / orders</span><span class="t" style="font-size:16px;color:#060a1c;top:1184.00px;right:94.92px;letter-spacing:2.100px;-webkit-text-stroke:0.12px #060a1c;">1,163</span><span class="t" style="font-size:16px;color:#060a1c;top:1232.00px;left:1670.10px;letter-spacing:0.264px;-webkit-text-stroke:0.12px #060a1c;">2. enriched_data</span><span class="t" style="font-size:16px;color:#060a1c;top:1232.00px;right:96.02px;letter-spacing:1.000px;-webkit-text-stroke:0.12px #060a1c;">22</span><span class="t" style="font-size:16px;color:#060a1c;top:1280.00px;left:1670.10px;letter-spacing:0.449px;-webkit-text-stroke:0.12px #060a1c;">3. poll_snowflake_query_history_hour</span><span class="t" style="font-size:16px;color:#060a1c;top:1280.00px;right:96.02px;letter-spacing:1.000px;-webkit-text-stroke:0.12px #060a1c;">8</span><span class="t" style="font-size:16px;color:#060a1c;top:1328.00px;left:1670.10px;letter-spacing:0.042px;-webkit-text-stroke:0.12px #060a1c;">4. RAW_DATA / users</span><span class="t" style="font-size:16px;color:#060a1c;top:1328.00px;right:96.02px;letter-spacing:1.000px;-webkit-text-stroke:0.12px #060a1c;">3</span><span class="t" style="font-size:16px;color:#060a1c;top:1376.00px;left:1669.30px;letter-spacing:0.297px;-webkit-text-stroke:0.12px #060a1c;">5. ANALYTICS / orders_augmented</span><span class="t" style="font-size:16px;color:#060a1c;top:1376.00px;right:96.02px;letter-spacing:1.000px;-webkit-text-stroke:0.12px #060a1c;">2</span><span class="t" style="font-size:16px;color:#060a1c;top:1424.00px;left:1670.10px;letter-spacing:0.174px;-webkit-text-stroke:0.12px #060a1c;">6. CLEANED / users_cleaned</span><span class="t" style="font-size:16px;color:#060a1c;top:1424.00px;right:96.02px;letter-spacing:1.000px;-webkit-text-stroke:0.12px #060a1c;">2</span><span class="t" style="font-size:16px;color:#060a1c;top:1472.00px;left:1670.10px;letter-spacing:0.222px;-webkit-text-stroke:0.12px #060a1c;">7. CLEANED / orders_cleaned</span><span class="t" style="font-size:16px;color:#060a1c;top:1472.00px;right:96.02px;letter-spacing:1.000px;-webkit-text-stroke:0.12px #060a1c;">2</span><span class="t" style="font-size:16px;color:#060a1c;top:1520.00px;left:1670.10px;letter-spacing:0.194px;-webkit-text-stroke:0.12px #060a1c;">8. RAW_DATA / locations</span><span class="t" style="font-size:16px;color:#060a1c;top:1520.00px;right:96.02px;letter-spacing:1.000px;-webkit-text-stroke:0.12px #060a1c;">1</span><span class="t" style="font-size:18.4px;color:#060a1c;top:1121.00px;left:2761.16px;letter-spacing:0.424px;-webkit-text-stroke:0.12px #060a1c;">High to low</span>
<div style="position:absolute;left:0;top:1380px;width:2940px;height:168px;overflow:hidden;-webkit-mask-image:linear-gradient(to right,transparent 30px,#000 720px,#000 2500px,transparent 2860px);mask-image:linear-gradient(to right,transparent 30px,#000 720px,#000 2500px,transparent 2860px)"><div style="position:absolute;left:-200px;top:170px;width:3340px;height:40px;box-shadow:0 0 52px 2px rgba(0,0,0,0.33)"></div></div>
</div>
